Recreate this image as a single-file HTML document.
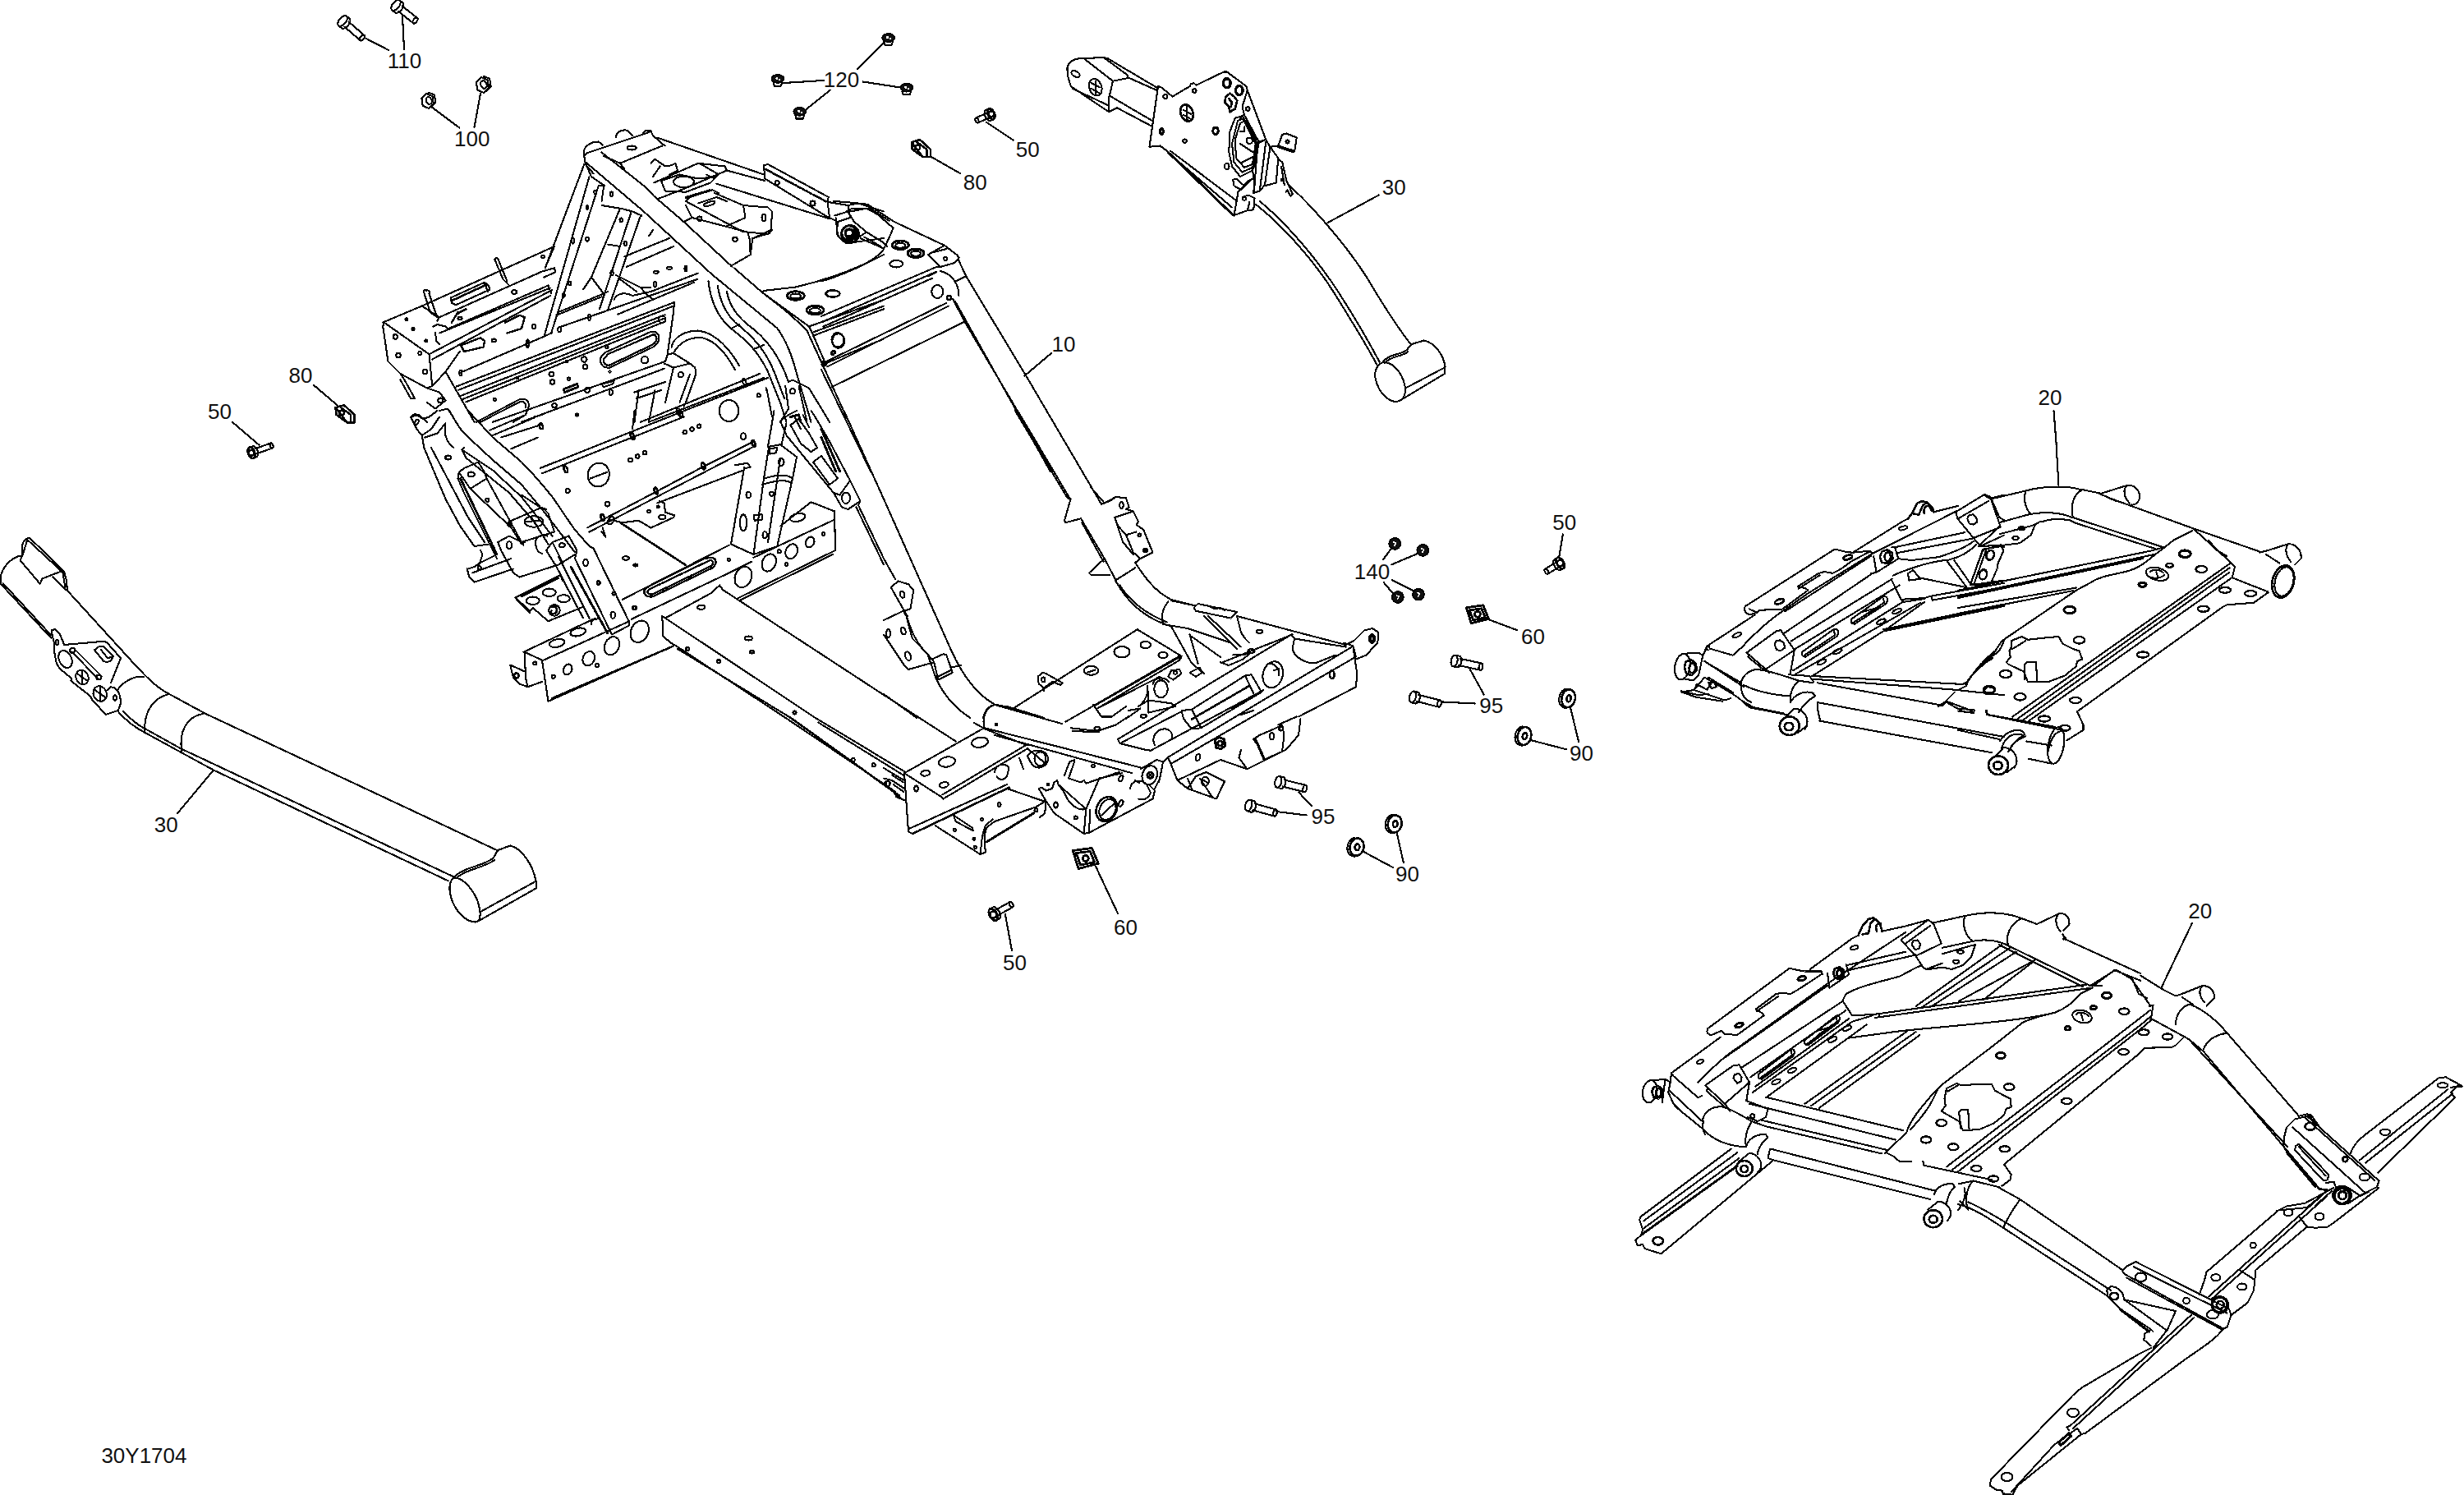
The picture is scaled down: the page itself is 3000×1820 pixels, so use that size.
<!DOCTYPE html>
<html><head><meta charset="utf-8"><title>30Y1704</title>
<style>
html,body{margin:0;padding:0;background:#fff;}
body{width:3000px;height:1820px;overflow:hidden;font-family:"Liberation Sans",sans-serif;}
svg{display:block}
.t{font-family:"Liberation Sans",sans-serif;font-size:25px;fill:#111;stroke:none}
</style></head><body>
<svg width="3000" height="1820" viewBox="0 0 3000 1820" fill="none" stroke="#000" stroke-width="2.1" shape-rendering="crispEdges" stroke-linecap="round" stroke-linejoin="round">
<rect x="0" y="0" width="3000" height="1820" fill="#fff" stroke="none"/>
<!-- left arm 30 : tile (0,640) x4 -->
<g transform="translate(0,640) scale(0.25)" stroke-width="8.26">
<path d="M108,145 C60,150 10,200 3,250 L5,285 L250,548 M14,280 L248,532"/>
<path d="M145,60 L312,222 M133,68 L298,220 M145,60 L130,63 L112,82 L108,100 L110,145 L98,168 L195,283 L205,258 L298,222 L312,222 L325,272 L327,315 M306,230 L318,305 M258,250 L320,312 M133,68 L110,145"/>
<path d="M327,315 L660,680 C720,745 770,795 840,828 L1000,915 L2424,1582"/>
<path d="M575,905 C620,955 660,985 710,1010 L1040,1190 L2184,1730 M600,905 C640,945 670,970 700,985 L880,1085 L2210,1710"/>
<path d="M700,735 C650,730 600,760 572,800 M815,822 C750,840 700,900 705,1005 M990,915 C910,930 870,1000 885,1100"/>
<path d="M250,508 L268,505 L290,525 L305,560 L312,580 L505,563 L520,568 L588,645 L540,765 M250,508 L257,545 L265,575 L262,600 L275,670 L290,695 L350,745 L345,755 L440,830 L450,850 L470,870 L515,920 L575,900 L590,860 L580,815 L560,790 L540,785 L525,800"/>
<ellipse cx="318" cy="650" rx="30" ry="44" transform="rotate(-25 318 650)"/>
<ellipse cx="400" cy="738" rx="30" ry="36" transform="rotate(-25 400 738)"/>
<ellipse cx="487" cy="818" rx="32" ry="38" transform="rotate(-25 487 818)"/>
<path d="M375,720 L425,755 M400,710 L400,770 M462,800 L512,835 M487,785 L487,852"/>
<ellipse cx="278" cy="568" rx="7" ry="11"/><ellipse cx="560" cy="838" rx="8" ry="13"/>
<path d="M350,615 L478,745 M365,603 L495,733"/>
<circle cx="353" cy="607" r="12"/><circle cx="481" cy="738" r="12"/>
<path d="M460,605 L480,590 L505,587 L552,635 L540,658 L520,665 L505,660 Z M492,605 L525,645 L540,640"/>
<path d="M1040,1190 L865,1400"/>
</g>
<!-- arm end: tile (300,860) x4 -->
<g transform="translate(300,860) scale(0.25)" stroke-width="8.26">
<path d="M1010,835 C985,850 985,900 1000,940 C1020,1000 1070,1050 1115,1050 C1150,1045 1140,990 1125,945 C1100,885 1050,830 1010,835 Z"/>
<path d="M1225,700 L1285,678 C1340,690 1395,770 1410,850 L1412,885 L1130,1045 M1408,852 L1140,1000"/>
<path d="M1010,832 C1060,780 1150,780 1200,740 C1215,725 1215,705 1228,700 M1020,838 C1070,790 1150,790 1208,748"/>
</g>
<!-- top arm 30 bracket : tile (1250,0) x4 -->
<g transform="translate(1250,0) scale(0.25)" stroke-width="8.26">
<path d="M255,285 C220,290 195,310 198,340 L200,370 L215,420 L400,545 L440,525 M255,285 L375,280 L490,365 L495,380 L420,395 L400,480 L400,545 M285,290 L420,395 M375,280 L395,285 L640,430 M495,378 L630,438 M410,470 L615,590 M440,525 L610,615 M225,432 L395,512"/>
<ellipse cx="238" cy="360" rx="22" ry="13" transform="rotate(30 238 360)"/>
<ellipse cx="335" cy="425" rx="30" ry="42" transform="rotate(-20 335 425)"/>
<path d="M315,405 L355,425 M312,430 L352,452 M335,395 L335,455"/>
<path d="M640,420 L655,425 L710,470 L795,420 L800,408 L815,405 L825,415 L960,350 L975,350 L1070,420 L1075,440 L1165,680 L1120,700 L1100,820 L1105,870 L1080,880 L1030,935 L1010,1050 L690,740 L650,710 L598,715 Z"/>
<path d="M1075,440 L1050,520 L1060,560 L1130,690 L1165,680 M1055,560 L1040,575"/>
<path d="M1015,575 L1050,565 L1130,690 L1120,760 L1100,830 L1040,860 L1000,810 L985,740 L990,640 Z M1040,600 L1060,590 L1115,700 L1100,800 L1060,815 L1020,770 L1015,680 Z M1028,588 L1052,578 L1122,695 L1108,812 L1050,838 L1010,790 L1000,700 Z M1040,700 L1100,740 M1050,790 L1100,765 M1040,640 L1060,640 L1062,615"/>
<circle cx="1085" cy="685" r="15"/>
<circle cx="675" cy="470" r="10"/><circle cx="817" cy="442" r="9"/><circle cx="770" cy="687" r="9"/><circle cx="1077" cy="530" r="9"/>
<ellipse cx="920" cy="637" rx="13" ry="17" stroke-width="11.8"/><ellipse cx="975" cy="810" rx="11" ry="15"/>
<ellipse cx="657" cy="640" rx="8" ry="14" stroke-width="11.8"/>
<ellipse cx="975" cy="405" rx="17" ry="22" stroke-width="14.16"/><ellipse cx="1035" cy="440" rx="17" ry="22" stroke-width="14.16"/>
<ellipse cx="780" cy="550" rx="30" ry="42" transform="rotate(-20 780 550)" stroke-width="10.62"/>
<path d="M762,535 L800,555 M765,560 L800,580 M780,520 L782,585" />
<path d="M970,470 L990,455 L1010,470 L1025,490 L1015,530 L990,545 L985,520 L965,500 Z M985,480 L1000,500 L995,520" stroke-width="10.62"/>
<path d="M690,745 L1005,1050 L1075,1025 L1085,985 M700,735 L1025,980 M720,770 L1000,1010"/>
<path d="M1030,935 L1100,870 L1110,880 L1105,940 M1050,960 L1080,950 L1110,965 L1105,1020 L1085,1025 M1005,875 L1020,870 L1060,905 L1045,925 L1010,905 Z"/>
<circle cx="1060" cy="967" r="8"/>
<path d="M1165,690 L1135,930 L1105,940 M1125,700 L1108,930 M1185,720 L1160,900 L1135,930 M1165,680 L1185,715 L1225,770 L1215,890 L1160,905"/>
<path d="M1185,715 L1225,710 L1245,655 L1265,650 L1315,670 L1305,735 L1225,710 M1225,716 L1300,742"/>
<circle cx="1270" cy="690" r="8"/>
<path d="M1225,775 L1245,790 L1265,880 L1275,900 L1295,945 L1285,955 L1270,925 L1262,935 M1240,810 L1255,900"/>
<circle cx="1243" cy="875" r="5"/>
</g>
<!-- arm tube & end : tile (1450,200) x4 -->
<g transform="translate(1450,200) scale(0.25)" stroke-width="8.26">
<path d="M475,100 C620,230 800,450 880,590 C940,690 1010,800 1070,875"/>
<path d="M315,195 C450,300 600,470 700,630 C780,760 850,870 905,975 M335,180 C470,290 620,470 720,625 C800,750 870,870 918,962"/>
<path d="M935,965 C905,975 890,1010 900,1050 C915,1110 960,1160 1005,1155 C1040,1150 1050,1110 1040,1070 C1025,1010 980,960 935,965 Z"/>
<path d="M935,962 C970,920 1020,930 1050,905 C1065,890 1065,880 1078,875 M945,968 C975,930 1025,940 1058,912 M1078,875 L1135,858 C1190,870 1230,930 1238,985 L1235,1020 L1035,1140 M1235,990 L1045,1090"/>
<path d="M665,285 L915,150"/>
</g>
<!-- subframe 20 (upper right) : tile (2030,600) x6.01 -->
<g transform="translate(2030,600) scale(0.1664)" stroke-width="12.39">
<path d="M570,830 L1225,412 L1300,430 L1355,437 L1480,425 L1500,440 M570,830 C555,855 575,890 610,890 L655,875 L672,858 L840,852 L1030,712 L1010,698 L955,685 L1105,590 L1150,577 L1210,588 C1260,565 1300,540 1340,505 L1480,430 M960,700 L1115,603 M655,875 L600,850"/>
<ellipse cx="820" cy="795" rx="35" ry="16" transform="rotate(-20 820 795)" stroke-width="16.52"/><ellipse cx="1320" cy="472" rx="33" ry="15" transform="rotate(-15 1320 472)" stroke-width="16.52"/>
<path d="M300,1115 L640,893 M1365,432 L1720,210 L1760,190 M1950,140 L2130,95 M300,1115 L312,1140 L480,1188 L545,1130 C620,1050 720,950 830,875 L1030,735 L1500,445 L2120,132 M860,868 L1490,462 M290,1120 L275,1150 L300,1150"/>
<ellipse cx="510" cy="1040" rx="35" ry="14" transform="rotate(-25 510 1040)"/><ellipse cx="1725" cy="258" rx="32" ry="13" transform="rotate(-15 1725 258)"/>
<path d="M1760,190 L1790,150 L1830,75 L1860,62 L1900,68 L1940,110 L1950,140 M1790,150 L1840,160 L1870,90 L1900,70 M1880,150 C1870,120 1890,90 1915,95 L1935,130" stroke-width="15.34"/>
<path d="M1510,465 L1530,582 L1690,482 L1665,395 L1640,400 M1490,590 L1530,582"/>
<path d="M1555,470 L1570,430 L1610,415 L1645,440 L1650,485 L1615,515 L1570,510 Z" stroke-width="15.34"/><ellipse cx="1612" cy="468" rx="22" ry="32" stroke-width="15.34"/>
<path d="M1665,398 L2175,290 M1690,482 L1780,492 M1680,440 L2230,335 M1770,495 L1985,470 C2080,440 2180,400 2240,355 M1650,605 C1800,540 1950,500 2060,490 C2150,470 2220,420 2260,380"/>
<path d="M2110,140 L2320,12 L2365,30 L2430,180 L2464,200 M2110,140 L2125,190 L2240,330 L2440,250 M2125,190 L2350,60 M2240,330 L2290,390 L2464,310 M2365,40 L2464,15"/>
<path d="M2195,190 L2205,165 L2235,158 L2262,180 L2265,215 L2240,232 L2210,225 Z"/>
<path d="M2310,420 L2440,380 L2464,395 M2310,420 L2220,660 L2240,672 L2464,640 M2330,425 L2245,665"/>
<ellipse cx="2365" cy="455" rx="28" ry="35" transform="rotate(20 2365 455)"/><ellipse cx="2310" cy="600" rx="28" ry="35" transform="rotate(20 2310 600)"/>
<path d="M2050,505 L2190,690 M2100,495 L2215,660 M1840,620 L2180,690 M1760,590 L1800,565 L1850,630 L1770,640 Z"/>
<!-- lower channel rail -->
<path d="M580,1170 L800,1010 L830,1005 L930,1150 L920,1210 L900,1320 M580,1170 L720,1290 L930,1150 M720,1290 L745,1315 M600,1185 L590,1200 L700,1290"/>
<path d="M785,1110 L795,1085 L825,1078 L855,1100 L858,1135 L830,1155 L800,1148 Z"/>
<path d="M850,1030 L1500,590 L1530,582 M905,1085 L1645,630 M930,1145 L1700,675 M920,1300 L1720,800 L1880,775 M940,1325 L1850,805 M1060,1340 L1600,1000 L1880,800"/>
<path d="M985,1165 L1215,1000 C1240,990 1255,1005 1250,1030 L1240,1050 L1010,1200 C990,1200 980,1185 985,1165 Z M1215,1000 L1228,1040 L1000,1190"/>
<path d="M1345,925 L1575,762 C1600,752 1615,767 1610,792 L1600,812 L1370,960 C1350,960 1340,945 1345,925 Z M1575,762 L1588,802 L1360,950 M1430,870 L1540,840 M1440,900 L1550,830"/>
<ellipse cx="1130" cy="1238" rx="35" ry="14" transform="rotate(-25 1130 1238)"/><ellipse cx="1245" cy="1160" rx="35" ry="14" transform="rotate(-25 1245 1160)"/><ellipse cx="1565" cy="942" rx="35" ry="14" transform="rotate(-25 1565 942)"/><ellipse cx="1680" cy="866" rx="35" ry="14" transform="rotate(-25 1680 866)"/>
<path d="M1580,1000 L2464,815 M1600,1008 L2464,828" stroke-width="14.16"/>
<path d="M1640,635 L1710,780 L1880,770 L1930,755 L1940,785 L2464,690 M1930,755 L2464,660 M1710,780 L1730,800"/>
<!-- left end bushing and elbow -->
<ellipse cx="110" cy="1272" rx="55" ry="95" transform="rotate(10 110 1272)"/>
<path d="M125,1275 L135,1235 L175,1220 L210,1250 L215,1300 L180,1335 L140,1325 Z" stroke-width="15.34"/><ellipse cx="182" cy="1282" rx="22" ry="35" stroke-width="15.34"/>
<path d="M110,1177 L230,1170 L260,1190 L300,1115 M260,1190 L230,1330 L195,1370 L130,1365 M270,1230 L560,1420 M300,1350 L480,1460 M215,1400 L290,1440 L330,1380 M100,1450 L230,1480 L300,1470 M215,1400 L200,1440"/>
<path d="M890,1330 L1040,1340 L1070,1380 M1060,1340 L2160,1400 L2200,1380 C2250,1300 2300,1230 2400,1180 C2440,1160 2450,1110 2464,1080 M1060,1362 L2100,1440 L2464,1480 M2180,1400 C2230,1330 2290,1260 2380,1210"/>
<path d="M2320,1445 L2345,1420 L2385,1425 L2395,1455 L2365,1475 L2330,1470 Z"/>
</g>
<!-- subframe 20 (upper right) right part : tile (2384,540) x4 -->
<g transform="translate(2384,540) scale(0.25)" stroke-width="8.26">
<path d="M478,0 L490,205"/>
<path d="M160,270 L330,230 C400,210 520,200 600,225 M200,385 L345,345 C420,330 500,335 555,360 M330,232 C315,270 330,320 355,345 M600,228 C560,250 545,310 560,360 M604,224 L700,244 M690,245 L750,270 L1150,415 L1480,530 M560,360 L1000,505 M575,388 L960,512 M405,382 C450,365 500,365 545,374 L575,388"/>
<path d="M700,242 L825,203 C865,200 890,235 883,270 C875,290 860,300 845,298 M825,203 C800,222 808,262 835,290 M735,265 L775,282"/>
<path d="M1470,530 L1510,520 L1610,488 C1650,490 1675,525 1670,560 L1640,590 M1610,488 C1590,505 1595,545 1620,575 M1500,540 L1565,582"/>
<ellipse cx="1583" cy="672" rx="52" ry="80" transform="rotate(15 1583 672)" stroke-width="10.62"/><ellipse cx="1588" cy="672" rx="44" ry="72" transform="rotate(15 1588 672)"/>
<path d="M1340,655 L1510,722 M1330,580 L1348,600 L1335,652 M1150,418 L1330,580"/>
<path d="M1140,425 L1050,470 L990,518 C930,560 900,600 830,620 C760,640 700,640 640,680 L575,715 L215,960 C190,990 180,1020 160,1040 L110,1075 L50,1150 L40,1180 L0,1200 M180,1010 L120,1062 M1220,470 L1260,520 L1310,548"/>
<path d="M1330,580 L265,1330 M1322,605 L290,1340 M1320,628 L318,1345 M1335,652 L345,1350"/>
<path d="M1510,725 L1440,775 L1310,785 L1290,795 L580,1305 L610,1370 L610,1395 L530,1445"/>
<g stroke-width="9.44">
<ellipse cx="1300" cy="713" rx="28" ry="14"/><ellipse cx="1425" cy="730" rx="28" ry="14"/><ellipse cx="1195" cy="805" rx="28" ry="14"/><ellipse cx="900" cy="1028" rx="28" ry="14"/><ellipse cx="572" cy="1250" rx="28" ry="14"/><ellipse cx="420" cy="1340" rx="28" ry="14"/><ellipse cx="520" cy="1385" rx="26" ry="13"/>
<ellipse cx="1105" cy="537" rx="28" ry="17" stroke-width="12.98"/><ellipse cx="1030" cy="593" rx="17" ry="10"/><ellipse cx="1185" cy="612" rx="27" ry="16"/><ellipse cx="898" cy="687" rx="18" ry="10" stroke-width="12.98"/><ellipse cx="543" cy="810" rx="28" ry="17" stroke-width="11.8"/><ellipse cx="590" cy="957" rx="27" ry="17"/><ellipse cx="232" cy="1122" rx="28" ry="18"/><ellipse cx="152" cy="1198" rx="28" ry="17" stroke-width="11.8"/><ellipse cx="302" cy="1233" rx="28" ry="17"/>
</g>
<ellipse cx="970" cy="635" rx="56" ry="30" transform="rotate(15 970 635)"/><path d="M935,625 C950,610 985,612 1000,630 M940,650 C960,660 990,655 1005,640 M965,625 L975,655"/>
<path d="M260,960 L310,940 L340,955 L430,945 L490,940 L510,975 L560,1000 L590,1010 L605,1050 L580,1060 L575,1085 L520,1130 L440,1160 L340,1160 L320,1110 L245,1075 L235,1065 L255,1040 L250,1010 L262,985 Z M325,1075 L335,1065 L380,1065 L385,1160 M325,1075 L325,1150 M265,1000 L330,960"/>
<path d="M0,715 L950,520 L1000,505 M0,745 L955,540 M0,752 L900,560 M0,800 L575,702 M0,828 L562,716" />
<path d="M125,250 L160,270 L200,385 L205,400 L100,500 M205,440 L360,400 L400,380 L375,395 L355,445 L300,485 L220,495 L100,500 M120,515 L210,500 L222,520 L205,560 L195,580 L190,610 L160,680 L60,690 M120,515 L60,690"/>
<ellipse cx="310" cy="413" rx="15" ry="8"/><ellipse cx="280" cy="460" rx="15" ry="8"/>
<ellipse cx="155" cy="543" rx="19" ry="25" transform="rotate(20 155 543)"/><ellipse cx="122" cy="637" rx="19" ry="25" transform="rotate(20 122 637)"/>
<path d="M140,1320 L530,1400 M135,1300 L140,1320 M0,1395 L200,1440 M210,1495 C220,1440 260,1400 320,1420 M250,1495 C260,1460 290,1440 330,1425 M440,1495 C450,1430 480,1390 530,1400 M510,1495 C520,1450 520,1420 510,1400 M0,1290 L80,1298 L75,1312 L0,1302"/>
</g>
<!-- subframe 20 (upper right) lower tube : tile (2000,780) x4 -->
<g transform="translate(2000,780) scale(0.25)" stroke-width="8.26">
<path d="M480,235 C470,190 500,150 550,140 C600,140 650,160 700,175 L760,195 L830,205 M480,235 C485,270 500,290 530,300 M300,100 L480,205 M305,180 L440,260 L475,285 M760,195 C730,220 715,260 720,300 M490,215 C560,250 650,265 720,270 M480,290 L540,325 L690,355"/>
<path d="M850,205 L1460,315 M850,300 L1760,468 M860,390 L1700,545 M850,300 L855,350 L865,390 M1870,490 L1990,510 M1880,575 L1990,598 M1680,360 L2010,420 M1675,340 L1680,360"/>
<ellipse cx="2013" cy="510" rx="38" ry="90" transform="rotate(10 2013 510)"/>
<path d="M720,300 C740,260 790,240 830,255 L840,270 C800,290 770,330 760,350 M735,330 C780,330 810,370 800,410 L790,430 M700,368 L740,330 M755,448 L800,415"/>
<ellipse cx="715" cy="415" rx="48" ry="45" stroke-width="10.62"/><ellipse cx="712" cy="418" rx="21" ry="19" stroke-width="10.62"/>
<path d="M1740,490 C1760,450 1810,425 1850,440 L1860,455 C1820,480 1790,520 1780,540 M1755,520 C1800,520 1830,560 1820,600 L1810,620 M1720,560 L1758,520 M1775,640 L1815,610"/>
<ellipse cx="1732" cy="607" rx="48" ry="45" stroke-width="10.62"/><ellipse cx="1730" cy="608" rx="21" ry="19" stroke-width="10.62"/>
<path d="M190,250 L250,240 L400,290 L430,280 M190,250 L260,275 L390,295 M250,240 L300,180 M320,205 L345,200 L360,225 L335,232 Z M480,290 L520,325 L700,360"/>
<path d="M1460,315 L1480,295 L1600,340 L1610,350 L1560,345 L1480,300 M1440,320 L1470,300 L1520,250"/>
</g>
<!-- subframe 20 (lower right) upper-left : tile (1990,1100) x4 -->
<g transform="translate(1990,1100) scale(0.25)" stroke-width="8.26">
<path d="M1450,95 L1610,60 C1700,40 1800,40 1880,70 L1960,100 M1610,60 C1595,100 1610,160 1650,185 M1880,75 C1830,100 1805,160 1820,200 M1500,215 L1640,185 C1700,170 1770,180 1810,200 L2210,395 M1775,200 L2185,405 M2090,170 L2464,340"/>
<path d="M1960,100 L2070,48 C2100,45 2120,70 2118,100 L2090,130 M2070,48 C2045,65 2050,110 2075,135 M2085,150 L2100,170 L2090,175"/>
<path d="M1300,175 L1430,80 L1455,95 L1495,195 L1370,255 L1300,180 M1370,255 L1405,310 L1420,320 L1500,290 M1320,195 L1440,108 M1500,245 L1640,205 L1660,200 L1640,260 L1600,300 L1545,320 L1500,310 L1420,322"/>
<path d="M1350,200 L1358,182 L1378,178 L1392,195 L1388,218 L1368,225 Z"/>
<ellipse cx="1588" cy="235" rx="15" ry="8"/><ellipse cx="1567" cy="283" rx="15" ry="8"/>
<path d="M1090,155 L1110,110 L1140,75 L1165,70 L1195,95 L1205,130 M1110,150 L1140,145 L1150,95 L1170,78 M1180,135 C1170,110 1185,90 1200,98" stroke-width="10.62"/>
<path d="M180,825 L420,650 M855,320 L1060,170 L1090,155 M1205,135 L1320,110 L1430,80 M180,825 L190,840 L310,945 L330,935 M310,870 C380,800 440,740 520,690 L940,390 L1320,140 M440,750 L940,400"/>
<ellipse cx="320" cy="770" rx="18" ry="9" transform="rotate(-25 320 770)"/><ellipse cx="1070" cy="215" rx="20" ry="9" transform="rotate(-15 1070 215)"/>
<path d="M355,610 L755,315 L800,325 L830,330 L910,330 L915,345 M355,610 C350,630 360,640 375,640 L410,625 L425,620 L440,635 L500,640 L630,545 L625,535 L590,515 L690,440 L720,435 L760,440 C800,420 840,390 910,345 M595,525 L700,452"/>
<ellipse cx="510" cy="592" rx="20" ry="10" transform="rotate(-20 510 592)" stroke-width="11.8"/><ellipse cx="815" cy="365" rx="20" ry="10" transform="rotate(-15 815 365)" stroke-width="11.8"/>
<path d="M940,340 L950,410 L1045,345 L1030,295"/>
<path d="M968,340 L975,318 L1000,310 L1020,325 L1020,352 L1000,368 L978,362 Z" stroke-width="11.8"/><ellipse cx="998" cy="340" rx="12" ry="18" stroke-width="11.8"/>
<path d="M1035,300 L1320,235 M1040,325 L1370,250 M1030,440 C1100,400 1200,380 1290,355 C1340,330 1370,310 1400,300 M1010,480 L1030,440"/>
<path d="M345,885 L480,790 L510,785 L560,870 L555,900 L545,960 M345,885 L440,975 L560,870 M440,975 L465,1010 M360,900 L350,912 L440,990"/>
<path d="M482,850 L488,832 L508,828 L522,845 L520,866 L500,875 Z"/>
<path d="M520,800 L1015,475 M565,845 L1030,520 M575,920 L1060,575 L1160,545 M640,945 L1130,590 M590,890 L1045,560"/>
<path d="M605,830 L760,712 C775,705 782,715 778,730 L770,745 L620,855 C605,855 600,845 605,830 Z M760,712 L768,738 L615,848"/>
<path d="M830,665 L980,548 C995,541 1002,551 998,566 L990,581 L845,690 C830,690 825,680 830,665 Z M980,548 L988,574 L840,684 M890,620 L960,600 M895,640 L965,590"/>
<g><ellipse cx="690" cy="868" rx="22" ry="10" transform="rotate(-25 690 868)"/><ellipse cx="768" cy="812" rx="22" ry="10" transform="rotate(-25 768 812)"/><ellipse cx="965" cy="662" rx="22" ry="10" transform="rotate(-25 965 662)"/><ellipse cx="1035" cy="607" rx="22" ry="10" transform="rotate(-25 1035 607)"/></g>
<path d="M1015,475 L1060,545 L1165,540 M1165,540 L2200,395 M1170,556 L2230,410 M1040,655 L1300,620 C1600,590 1900,570 2050,530 C2100,510 2140,480 2170,440 L2230,410 M1190,535 L1195,550"/>
<path d="M830,975 L1330,620 M860,985 L1370,625 M900,995 L1390,640 M1370,500 L1790,200 M1400,505 L1830,215 M1440,505 L1860,235 M1580,475 L1960,270 M1700,468 L1940,285"/>
<ellipse cx="75" cy="915" rx="35" ry="55" transform="rotate(10 75 915)"/>
<path d="M85,918 L92,895 L115,888 L135,903 L138,932 L118,950 L95,945 Z" stroke-width="10.62"/><ellipse cx="117" cy="920" rx="12" ry="20" stroke-width="10.62"/>
<path d="M80,862 L150,855 L175,870 L180,825 M150,855 L135,970 M175,870 L165,920 L190,975 L215,1000 M170,910 L330,1060 M195,985 L330,1095 C380,1150 450,1180 540,1185"/>
<path d="M330,1060 C340,1010 380,985 430,990 C470,1000 520,1030 570,1060 L640,1085 M570,1065 C545,1100 535,1150 545,1185 M335,1060 C330,1090 335,1110 345,1125"/>
<path d="M545,960 L650,1000 L640,1040 L600,1060 L550,1040"/><circle cx="575" cy="1035" r="10"/>
<path d="M650,945 L1310,1105 M560,975 L1270,1150 M620,1055 L1230,1200 M640,1085 L1205,1218"/>
<path d="M665,1195 L1470,1400 M680,1250 L1440,1440 M660,1195 L650,1240 L680,1250 M545,1185 C550,1150 590,1120 640,1125 L650,1140 C620,1160 600,1200 600,1220 M560,1215 C600,1220 625,1255 615,1290 L600,1310 M510,1255 L560,1215 M1405,1255 L1410,1275 L1740,1345"/>
<ellipse cx="535" cy="1290" rx="40" ry="38" stroke-width="10.62"/><ellipse cx="535" cy="1292" rx="18" ry="16" stroke-width="10.62"/>
<path d="M1220,1215 L1325,1115 C1340,1060 1390,1000 1450,930 L1500,880 L1750,690 L1890,580 C1950,550 2000,545 2050,530 M1345,1100 C1380,1060 1420,1020 1450,960 L1480,900 M1230,1215 L1260,1230 L1290,1255 L1350,1255"/>
<path d="M1520,1282 L2440,575 M1548,1296 L2464,592 M1575,1306 L2464,612 M1800,1270 L2464,726 M1800,1270 L1835,1320 L1830,1345 L1790,1375"/>
<path d="M1520,900 L1570,875 L1590,885 L1670,880 L1740,880 L1755,910 L1800,935 L1830,950 L1835,990 L1810,1000 L1800,1030 L1750,1070 L1680,1100 L1600,1105 L1580,1060 L1510,1020 L1495,1010 L1515,985 L1510,950 Z M1580,1015 L1590,1005 L1625,1005 L1630,1095 M1580,1015 L1590,1095 M1525,915 L1575,885"/>
<g stroke-width="9.44">
<ellipse cx="2300" cy="447" rx="22" ry="14" stroke-width="12.98"/><ellipse cx="2235" cy="507" rx="15" ry="9" stroke-width="11.8"/><ellipse cx="2385" cy="525" rx="25" ry="15"/><ellipse cx="2110" cy="607" rx="13" ry="9" stroke-width="11.8"/><ellipse cx="1783" cy="740" rx="22" ry="14" stroke-width="11.8"/><ellipse cx="1825" cy="893" rx="25" ry="16"/><ellipse cx="1495" cy="1068" rx="25" ry="16"/><ellipse cx="1420" cy="1150" rx="25" ry="16"/><ellipse cx="1553" cy="1185" rx="25" ry="16"/><ellipse cx="2382" cy="722" rx="25" ry="14"/><ellipse cx="2105" cy="962" rx="25" ry="14"/><ellipse cx="1803" cy="1195" rx="25" ry="14"/><ellipse cx="1665" cy="1290" rx="25" ry="14"/><ellipse cx="1748" cy="1340" rx="25" ry="14"/>
</g>
<ellipse cx="2180" cy="550" rx="48" ry="30" transform="rotate(15 2180 550)"/><path d="M2150,540 C2165,525 2200,530 2212,548 M2175,535 L2185,570"/>
<path d="M2220,400 L2340,325 L2464,375 M2250,385 L2270,370"/>
</g>
<!-- subframe 20 (lower right) upper-right : tile (2384,1100) x4 -->
<g transform="translate(2384,1100) scale(0.25)" stroke-width="8.26">
<path d="M1140,95 L990,410"/>
<path d="M888,350 L1000,420 L1060,450 L1090,440 L1190,400 C1230,400 1250,430 1248,460 L1210,500 M1190,400 C1170,420 1175,455 1200,480 M1090,455 L1145,492"/>
<path d="M660,400 L760,325 L775,325 L850,370 L880,440 L920,460 M690,380 L700,365 M640,400 L700,400 M850,375 L935,495"/>
<path d="M864,575 L935,520 M888,592 L938,550 M888,612 L940,568 M930,500 L950,495 L940,560 L935,575"/>
<path d="M888,722 L910,703 L1040,700 L1060,690 L1100,650 M940,560 L1105,650 M1060,590 C1060,540 1090,500 1130,490"/>
<ellipse cx="905" cy="627" rx="25" ry="14" stroke-width="9.44"/><ellipse cx="1020" cy="648" rx="25" ry="14" stroke-width="9.44"/>
<path d="M1130,490 C1200,520 1260,570 1310,630 L1660,1035 M1310,630 C1250,640 1210,670 1195,710 M1105,650 C1140,670 1170,700 1195,720 L1600,1200 M1125,662 L1605,1185"/>
<path d="M1660,1035 L1700,1025 L1720,1030 L1755,1080 M1640,1050 L1700,1035 L2050,1350 L2040,1380 L1960,1420 L1900,1460 M1640,1050 L1600,1090 L1590,1130 L1585,1180 M1630,1090 L1985,1410 M1690,1042 L2030,1348 M1705,1028 L1745,1075"/>
<path d="M1645,1180 L1660,1170 L1805,1320 L1800,1345 L1780,1350 L1640,1200 Z M1660,1185 L1790,1325"/>
<path d="M1590,1190 L1760,1390 L1800,1395 M1600,1212 L1740,1380" stroke-width="10.62"/>
<ellipse cx="1715" cy="1085" rx="25" ry="18" stroke-width="10.62"/><circle cx="1885" cy="1245" r="12" stroke-width="10.62"/><ellipse cx="1980" cy="1332" rx="25" ry="18"/>
<path d="M1790,1360 L1830,1355 L1840,1380 M1800,1395 L1700,1480 L1550,1495 M1820,1400 L1740,1470"/>
<circle cx="1870" cy="1420" r="42" stroke-width="14.16"/><circle cx="1872" cy="1420" r="20" stroke-width="10.62"/>
<path d="M1910,1220 C1920,1180 1950,1150 1990,1120 L2340,850 L2375,845 L2440,880 L2455,890 L2400,895 M2440,880 L2400,920 L2420,945 L2045,1310 M1955,1250 L2385,905 M1985,1262 L2410,925"/>
<ellipse cx="2080" cy="1113" rx="25" ry="15"/><ellipse cx="2360" cy="885" rx="25" ry="12"/>
</g>
<!-- subframe 20 (lower right) bottom-right : tile (2384,1446) x4 -->
<g transform="translate(2384,1446) scale(0.25)" stroke-width="8.26">
<path d="M200,0 L300,55 L800,400 M300,60 C270,100 240,150 220,195 M0,80 C80,100 150,150 220,195 L725,525 M50,70 C120,100 200,150 250,180 L745,500 M30,0 C40,30 35,60 0,110"/>
<path d="M865,360 L1320,590 L1330,620 L1310,680 L1290,685 L810,420 L800,405 L825,380 Z M855,385 L1310,610 M820,438 L1285,690"/>
<ellipse cx="890" cy="435" rx="28" ry="21"/><circle cx="1112" cy="550" r="15"/><ellipse cx="1240" cy="617" rx="28" ry="21"/>
<path d="M745,480 L770,485 L800,510 L810,545 L1060,600 M745,480 L725,500 L730,530 L760,560 L790,590 L940,690 L950,700 M810,545 L1010,690 M940,690 L910,710 L905,740 L940,770 M1060,600 L1020,690 L950,780"/>
<path d="M790,592 L930,700" stroke-width="12.98"/>
<ellipse cx="760" cy="528" rx="20" ry="17" stroke-width="10.62"/>
<circle cx="1275" cy="570" r="38" stroke-width="14.16"/><circle cx="1277" cy="570" r="18" stroke-width="10.62"/>
<path d="M1830,0 L1690,75 L1600,90 L1560,110 L1210,410 L1200,450 L1175,520 M1780,30 L1220,530 M1795,42 L1235,542 M2050,0 L1830,170 L1800,190 L1740,195 L1700,190 L1450,400 L1440,500 L1410,560 L1330,620 M1660,140 L1700,190 M1370,400 L1440,445 M1900,0 L1960,40 L2000,20"/>
<ellipse cx="1608" cy="120" rx="22" ry="16"/><ellipse cx="1760" cy="140" rx="22" ry="16"/><circle cx="1437" cy="280" r="14"/><ellipse cx="1255" cy="437" rx="22" ry="16"/><ellipse cx="1383" cy="482" rx="22" ry="16"/>
<circle cx="1870" cy="40" r="38" stroke-width="14.16"/><circle cx="1872" cy="38" r="18" stroke-width="10.62"/>
<path d="M1135,620 L545,1160 M1150,632 L560,1172 M940,780 L880,810 L600,975 L560,1010 L160,1420 L155,1450 L185,1470 L215,1475 L220,1495 M1290,690 C1250,740 1200,770 1100,840 L620,1195 L600,1200 L580,1170 M545,1160 L530,1165 L540,1182 M580,1172 L470,1250 L260,1480 M600,1200 L290,1450 L265,1495 L225,1490"/>
<path d="M490,1240 L540,1195 L550,1210 L500,1255 Z" stroke-width="11.8"/>
<ellipse cx="560" cy="1095" rx="28" ry="21"/><ellipse cx="238" cy="1408" rx="28" ry="20"/>
</g>
<!-- subframe 20 (lower right) bottom-left : tile (1900,1400) x4 -->
<g transform="translate(1900,1400) scale(0.25)" stroke-width="8.26">
<path d="M830,-5 L390,325 M862,12 L405,345 M870,40 L400,385 M1030,55 L490,505 M390,325 L385,340 L400,385 L395,412 L365,440 L375,465 L400,460 L410,480 L440,490 L490,505"/>
<path d="M860,78 L395,412" stroke-width="11.8" stroke-dasharray="14 6"/>
<ellipse cx="475" cy="443" rx="25" ry="19" stroke-width="10.62"/>
<path d="M1820,215 C1830,180 1870,160 1910,165 L1920,180 C1895,200 1880,240 1880,270 M1840,250 C1880,255 1905,285 1900,320 L1885,345 M1790,290 L1840,250 M1940,165 L2010,150"/>
<ellipse cx="1815" cy="335" rx="45" ry="42" stroke-width="10.62"/><ellipse cx="1815" cy="337" rx="20" ry="18" stroke-width="10.62"/>
<path d="M2010,150 C1980,180 1965,240 1985,290 M2010,150 L2140,182 M1945,250 L1985,290"/>
</g>
<!-- main frame T1 : tile (460,140) x4 -->
<g transform="translate(460,140) scale(0.25)" stroke-width="8.26">
<!-- beam -->
<path d="M1090,182 L1300,348 M1345,395 L1490,520 L1725,738 M1735,745 L1870,862 L1925,905 C2000,960 2050,1010 2090,1050 L2177,1240 L2293,1495 M1015,232 L1293,468 L1626,775 L1945,1038 C1990,1100 2020,1180 2040,1260 L2110,1495"/>
<path d="M1020,185 L1290,95 L1330,80 L1340,100 L1385,140 L1400,150 M1180,235 L1385,150 M1100,200 L1180,235 L1200,262 M1020,185 L1005,200 L1010,232 M1005,195 C995,160 1030,130 1075,130 L1095,147 M1160,110 C1160,80 1190,70 1215,75 L1240,100 M1290,95 C1290,80 1310,70 1330,78"/>
<ellipse cx="1237" cy="160" rx="22" ry="10"/>
<path d="M1360,110 L1880,290 M1650,335 L2200,505 M1700,270 L1885,320"/>
<path d="M1880,245 L1900,240 L2195,400 L2190,420 L2200,500 L2180,490 L1885,310 Z"/><path d="M1890,265 L2190,425" stroke-dasharray="12 8" stroke-width="10.62"/>
<circle cx="1945" cy="330" r="10"/><circle cx="2118" cy="430" r="12"/>
<path d="M2200,425 L2290,440 L2340,430 L2464,470 M2290,440 L2300,500 L2240,520 L2235,580 M2240,590 L2280,625 L2464,600 M2350,600 L2464,650 M2200,500 L2240,520 M2300,470 L2380,455 L2464,500"/>
<circle cx="2300" cy="580" r="42" stroke-width="11.8"/><circle cx="2300" cy="578" r="22" stroke-width="11.8"/>
<!-- center top bracket -->
<path d="M1300,348 L1345,395 L1360,410 L1490,360 L1700,270 L1690,250 L1560,235 L1345,330 M1560,235 L1575,240 L1660,290 L1640,310 L1600,290 M1380,320 L1470,290 L1560,310 L1650,300 L1620,330 L1500,375 L1400,370 Z M1330,235 L1350,215 L1400,250 L1430,245 L1450,235 L1460,270 L1420,290 M1340,300 L1375,250"/>
<ellipse cx="1490" cy="325" rx="50" ry="27"/>
<!-- channel bracket -->
<path d="M1490,520 L1530,500 L1800,570 L1810,600 L1815,680 L1720,735 M1500,420 L1780,570 M1500,420 L1520,400 L1630,365 L1660,380 M1640,380 L1780,440 L1900,450 L1920,470 L1915,560 L1830,600 M1780,440 L1790,500 L1700,540 M1560,430 L1650,400 L1700,420 M1800,570 L1900,580 L1920,560 M1815,680 L1825,600 L1910,575 M1530,500 L1500,440"/>
<path d="M1500,402 L1620,366" stroke-dasharray="10 6" stroke-width="11.8"/>
<circle cx="1567" cy="505" r="11"/><circle cx="1740" cy="605" r="11"/><ellipse cx="1880" cy="500" rx="10" ry="17"/><ellipse cx="1615" cy="432" rx="28" ry="9" transform="rotate(-18 1615 432)"/>
<!-- left upright -->
<path d="M1005,240 L815,745 M1030,300 L810,1078 M1075,345 L845,1060 M1105,345 L1075,345 M1100,350 L1090,420 M1090,440 L1180,455 L1040,790 L1000,850 M1235,470 L1080,945 M1280,490 L1120,950 M1185,455 L1240,470 L1285,490 M1120,630 L1180,640 M1040,790 L1100,870 L1120,860 M880,960 L1100,870 M870,975 L1090,885 M810,1078 L850,1060 M1010,232 L1040,300 L1105,345 M1020,250 L1050,285"/>
<g><ellipse cx="1138" cy="385" rx="7" ry="11"/><ellipse cx="1020" cy="450" rx="5" ry="9"/><ellipse cx="1020" cy="605" rx="7" ry="10"/><ellipse cx="1185" cy="512" rx="7" ry="10"/><ellipse cx="1205" cy="625" rx="7" ry="10"/><ellipse cx="1140" cy="770" rx="7" ry="10"/><ellipse cx="950" cy="612" rx="6" ry="14"/><ellipse cx="935" cy="820" rx="6" ry="9"/><ellipse cx="905" cy="878" rx="6" ry="9"/><ellipse cx="1058" cy="375" rx="5" ry="8"/></g>
<!-- rails behind upright -->
<path d="M1200,690 L1420,600 M1210,740 L1440,640 M1160,780 L1280,840 L1330,840 M1180,800 L1260,860 M1320,590 L1340,560 M1280,840 C1300,870 1320,880 1340,900 M1150,900 C1160,870 1200,860 1240,880 L1330,860 M1330,860 L1560,770 M1170,970 L1540,815 M880,1035 L1555,800"/>
<g><ellipse cx="1355" cy="765" rx="12" ry="6"/><ellipse cx="1420" cy="745" rx="12" ry="6"/><ellipse cx="1500" cy="748" rx="6" ry="14"/><ellipse cx="1350" cy="825" rx="6" ry="13"/><ellipse cx="1030" cy="985" rx="6" ry="14"/><ellipse cx="885" cy="1045" rx="8" ry="12"/><ellipse cx="730" cy="1110" rx="6" ry="16"/><ellipse cx="403" cy="1256" rx="6" ry="14"/><ellipse cx="729" cy="1119" rx="6" ry="14"/></g>
<!-- left box -->
<path d="M25,1010 L215,930 L860,640 M30,1010 L250,1165 L830,862 L850,852 M265,1190 L840,880 M30,1010 L25,1030 L50,1200 L110,1260 L240,1330 L265,1320 L250,1165 M215,930 L300,985 L800,762 M300,985 L290,1002 M345,1040 L830,830 L845,870 M300,1062 L840,842 M270,1030 L290,1020 L330,1030 L345,1045 M280,1060 L285,1100 L300,1115 M860,640 L815,745 M800,762 L860,745 L865,765 L810,790"/>
<path d="M225,865 L255,960 L290,985 M235,855 C250,850 255,860 250,870 L285,975 M570,705 L610,800 L640,830 M585,700 L630,810 M225,865 C220,855 228,850 235,855 M570,705 C568,697 578,694 585,700"/>
<path d="M355,890 L520,815 L540,830 L545,850 L380,925 L360,915 Z M520,815 L535,860"/><path d="M365,902 L530,826" stroke-dasharray="10 6" stroke-width="10.62"/>
<path d="M405,1122 L500,1085 L520,1100 L515,1130 L420,1152 Z M620,1010 L690,975 L715,985 L700,1040 L630,1062 M380,975 L400,960 L430,945 M360,1010 L390,960" stroke-width="9.44"/>
<g><circle cx="85" cy="1080" r="11"/><circle cx="100" cy="1170" r="11"/><circle cx="205" cy="1160" r="8"/><circle cx="230" cy="1250" r="10"/><circle cx="140" cy="995" r="6"/><circle cx="172" cy="1042" r="6"/><circle cx="235" cy="1100" r="6"/><ellipse cx="665" cy="862" rx="12" ry="9"/><ellipse cx="400" cy="990" rx="10" ry="8"/><ellipse cx="805" cy="690" rx="8" ry="6"/><ellipse cx="760" cy="1030" rx="8" ry="10"/><ellipse cx="565" cy="1098" rx="10" ry="8"/></g>
<path d="M110,1260 L130,1290 L180,1380 L160,1380 L110,1290 M240,1330 L300,1350 L330,1390 L280,1430 L240,1400 M265,1320 L330,1250 L400,1150 M160,1470 L200,1460 L240,1495 M300,1440 L340,1430 L360,1460"/>
<circle cx="305" cy="1390" r="12"/>
<!-- front panel -->
<path d="M399,1256 L815,1076 M383,1322 L1441,913 M393,1339 L1444,929 M400,1369 L1398,973 M415,1383 L1398,989 M430,1397 L1398,1006 M330,1250 L470,1495 M1444,913 L1438,973 L1410,1170 L1400,1200 M560,1495 L1400,1200 M700,1495 L1395,1235"/>
<path d="M1085,1185 C1080,1215 1100,1235 1130,1230 L1340,1130 C1375,1110 1380,1070 1350,1055 L1330,1055 L1110,1155 C1095,1165 1088,1175 1085,1185 Z"/><path d="M1100,1190 C1098,1210 1110,1222 1130,1218 L1335,1120 C1360,1105 1365,1080 1345,1068 L1120,1165 Z" stroke-dasharray="10 5" stroke-width="9.44"/>
<path d="M480,1495 L690,1385 C720,1375 740,1395 735,1420 L720,1460 L660,1495 M500,1495 L690,1398 C712,1392 725,1405 720,1425"/>
<g><circle cx="1385" cy="995" r="17"/><circle cx="1300" cy="1193" r="17"/><circle cx="1005" cy="1190" r="13"/><circle cx="1010" cy="1225" r="11"/><circle cx="845" cy="1262" r="11"/><circle cx="850" cy="1300" r="11"/><circle cx="930" cy="1285" r="7"/><circle cx="1020" cy="1340" r="11"/><circle cx="860" cy="1415" r="11"/><circle cx="1115" cy="1130" r="7"/><circle cx="1130" cy="1250" r="5"/><circle cx="920" cy="1200" r="6"/><circle cx="680" cy="1280" r="6"/><circle cx="570" cy="1385" r="6"/><circle cx="970" cy="1460" r="6"/></g>
<path d="M905,1335 L970,1310 L975,1325 L910,1350 Z" stroke-width="11.8"/>
<path d="M1090,1310 L1150,1295 L1145,1310 L1100,1325 Z M760,1470 L800,1460"/>
<!-- hoop tubes -->
<path d="M1430,1130 C1440,1080 1500,1050 1560,1050 C1650,1060 1720,1150 1760,1220 M1440,1160 C1470,1100 1530,1080 1580,1085 C1650,1100 1700,1170 1740,1240"/>
<path d="M1610,810 C1620,900 1650,980 1720,1040 C1800,1100 1850,1150 1900,1250 L1960,1400 L1990,1495 M1655,830 C1665,900 1690,960 1740,1010 C1830,1080 1890,1150 1930,1250 L1980,1380 M1700,860 C1710,920 1740,970 1800,1020 C1900,1090 1960,1180 2000,1300 M1720,1040 L1760,1020 M1830,1140 L1880,1120"/>
<path d="M1415,1165 L1440,1160 L1520,1210 L1545,1230 L1550,1260 L1500,1400 L1490,1420 M1440,1230 L1520,1210 M1440,1230 L1400,1400 M1520,1262 L1470,1400 M1395,1210 L1440,1230"/>
<circle cx="1475" cy="1265" r="13"/>
<path d="M1280,1495 L1860,1260 M1320,1495 L1880,1280 M1250,1350 L1400,1300 M1260,1380 L1380,1340 M1270,1340 L1250,1495 M1350,1340 L1320,1495"/>
<ellipse cx="1785" cy="1300" rx="8" ry="16" transform="rotate(-20 1785 1300)"/><ellipse cx="1465" cy="1445" rx="8" ry="16" transform="rotate(-20 1465 1445)"/><ellipse cx="1135" cy="1350" rx="8" ry="14"/>
<circle cx="1855" cy="1365" r="8"/><path d="M1890,1330 L1895,1345 M1895,1340 L1920,1470"/>
<!-- right side panel -->
<path d="M1885,855 L2035,838 C2200,800 2350,740 2464,680 M1880,870 L2100,1030 L2464,900 M2100,1030 L2115,1060 L2464,930 M2115,1060 L2180,1210 L2464,1090 M2180,1210 L2170,1225 M1870,862 L1885,855 M2120,1075 L2464,945"/>
<ellipse cx="2035" cy="880" rx="42" ry="21" stroke-width="11.8"/><ellipse cx="2035" cy="882" rx="26" ry="12"/><ellipse cx="2215" cy="870" rx="35" ry="17"/><ellipse cx="2130" cy="950" rx="42" ry="21" stroke-width="11.8"/><ellipse cx="2130" cy="952" rx="26" ry="12"/><ellipse cx="2240" cy="1095" rx="30" ry="35"/>
<path d="M2000,1300 L2020,1290 L2100,1330 M1985,1320 L2000,1430 L1960,1495 M2050,1320 L2090,1495 M2100,1330 L2200,1495"/>
<circle cx="2020" cy="1345" r="12"/><circle cx="2215" cy="1160" r="8"/><circle cx="2170" cy="1215" r="8"/>
<path d="M2010,1470 L2050,1460 L2060,1495" stroke-width="11.8"/>
</g>
<!-- main frame T2 : tile (1000,200) x4 -->
<g transform="translate(1000,200) scale(0.25)" stroke-width="8.26">
<path d="M60,180 L130,185 L225,195 L355,280 L440,320 L600,395 L665,445 L670,470 M120,230 L150,215 L240,215 L330,275 M65,250 L130,230 L160,280 L220,330 L190,350 L100,370 L80,345 L70,260 M220,330 L300,380 L320,400 M210,355 L290,400 M350,310 C340,340 320,380 300,420 C250,480 100,540 0,570 M240,215 L350,310"/>
<circle cx="135" cy="335" r="36" stroke-width="11.8"/><circle cx="135" cy="333" r="18" stroke-width="11.8"/>
<path d="M600,395 L520,440 L580,500 L650,480 L670,455 M540,430 L610,412"/><circle cx="605" cy="460" r="8"/>
<ellipse cx="385" cy="393" rx="40" ry="21" stroke-width="11.8"/><ellipse cx="385" cy="395" rx="24" ry="12"/><ellipse cx="460" cy="433" rx="40" ry="21" stroke-width="11.8"/><ellipse cx="460" cy="435" rx="24" ry="12"/><ellipse cx="365" cy="485" rx="32" ry="17"/><ellipse cx="57" cy="630" rx="32" ry="16"/>
<path d="M0,740 L560,500 L580,500 M0,770 L555,525 M520,545 L560,525 M580,520 C620,530 650,560 665,600 L670,640 M655,570 L705,545"/>
<path d="M670,470 L705,545 L1000,1035 L1270,1495 M640,655 L700,770 L1130,1495 M652,668 L1115,1495"/>
<path d="M15,965 L610,675 M30,985 L620,690 M10,790 L540,555 M50,1085 L695,768 M0,1000 L240,1495"/>
<ellipse cx="565" cy="620" rx="28" ry="32"/><ellipse cx="83" cy="860" rx="30" ry="35"/><circle cx="622" cy="650" r="10" stroke-width="11.8"/><circle cx="60" cy="915" r="8"/><circle cx="15" cy="970" r="9" stroke-width="11.8"/>
<path d="M0,1290 L90,1495 M0,1330 L70,1495" stroke-width="11.8"/>
</g>
<!-- main frame T3 : tile (460,500) x4 -->
<g transform="translate(460,500) scale(0.25)" stroke-width="8.26">
<!-- lower cross-member -->
<path d="M710,1175 L1060,1010 M1190,920 L1710,655 M1960,562 L2110,445 L2225,490 L2225,530 L2228,680 M2225,530 L1830,715 M2228,680 L1750,915 M2215,700 L1760,925 M800,1218 L1225,1025 M1235,1015 L1700,795 L1820,735 M715,1175 L800,1215 L830,1415 M830,1415 L1440,1145 M715,1175 L720,1300 L730,1345 L800,1320 M650,1240 L715,1270 M645,1240 L660,1300 L690,1330 L730,1345"/>
<path d="M850,1400 L1430,1150" stroke-dasharray="12 6" stroke-width="10.62"/>
<circle cx="675" cy="1290" r="11" stroke-width="11.8"/>
<g><ellipse cx="1275" cy="1075" rx="42" ry="55" transform="rotate(25 1275 1075)"/><ellipse cx="1140" cy="1145" rx="35" ry="46" transform="rotate(25 1140 1145)"/><ellipse cx="1027" cy="1207" rx="28" ry="36" transform="rotate(25 1027 1207)"/><ellipse cx="925" cy="1260" rx="20" ry="27" transform="rotate(25 925 1260)"/><circle cx="855" cy="1295" r="8"/><circle cx="1068" cy="1240" r="8"/><circle cx="765" cy="1230" r="8"/>
<ellipse cx="873" cy="1132" rx="38" ry="19" transform="rotate(-12 873 1132)"/><ellipse cx="975" cy="1078" rx="38" ry="19" transform="rotate(-12 975 1078)"/><path d="M1040,1040 C1035,1020 1060,1010 1085,1015"/>
<ellipse cx="1780" cy="810" rx="40" ry="52" transform="rotate(25 1780 810)"/><ellipse cx="1905" cy="740" rx="33" ry="44" transform="rotate(25 1905 740)"/><ellipse cx="2015" cy="685" rx="28" ry="37" transform="rotate(25 2015 685)"/><ellipse cx="2105" cy="640" rx="20" ry="27" transform="rotate(25 2105 640)"/><circle cx="2170" cy="600" r="8"/><circle cx="1955" cy="685" r="8"/><circle cx="1990" cy="748" r="8"/><ellipse cx="2045" cy="520" rx="38" ry="19" transform="rotate(-12 2045 520)"/><circle cx="1250" cy="960" r="8" stroke-width="11.8"/><circle cx="1710" cy="725" r="6"/></g>
<path d="M1300,870 C1290,895 1310,910 1340,905 L1630,765 C1655,745 1650,715 1620,715 L1590,720 L1320,855 Z" stroke-width="9.44"/><path d="M1315,875 C1310,890 1322,898 1340,893 L1622,757 C1638,745 1635,728 1618,728 L1330,866 Z" stroke-dasharray="10 5" stroke-width="9.44"/>
<!-- floor plate -->
<path d="M1385,1000 L1400,1010 L1620,890 L1665,850 L1680,872 L2464,1384 M1400,1010 L2130,1495 M1445,1140 L1985,1495 M1460,1160 L2010,1495 M1385,1000 L1390,1100 L1440,1140"/>
<path d="M1185,548 L1500,752" stroke-width="10.62"/>
<g><ellipse cx="1575" cy="957" rx="18" ry="10"/><ellipse cx="1805" cy="1108" rx="18" ry="10"/><circle cx="1822" cy="1175" r="7"/><circle cx="1508" cy="1160" r="8"/><circle cx="1660" cy="1222" r="8"/><circle cx="2030" cy="1470" r="8"/><ellipse cx="1208" cy="718" rx="15" ry="9"/><ellipse cx="1255" cy="752" rx="10" ry="6"/></g>
<!-- left post -->
<path d="M820,680 L850,640 L930,610 L970,680 L960,720 L1140,1090 L1225,1045 L1220,1020 L1050,670 L1030,660 M820,680 L870,760 L1000,1010 M880,710 L1030,1010 M850,640 L900,740"/>
<path d="M940,760 L1120,1085" stroke-dasharray="10 5" stroke-width="11.8"/>
<g><ellipse cx="897" cy="655" rx="14" ry="10"/><ellipse cx="1012" cy="740" rx="11" ry="16"/><circle cx="1075" cy="838" r="7" stroke-width="11.8"/><ellipse cx="1145" cy="995" rx="11" ry="16"/><circle cx="1150" cy="890" r="8"/></g>
<!-- curved tubes -->
<path d="M440,0 L560,130 L700,250 C760,310 810,370 850,420 C900,490 930,540 960,580 L1030,660 M350,0 C370,40 390,75 420,110 L560,240 L700,360 L800,480 L900,610 L960,690 M410,190 L560,290 L700,420 L850,610 M430,230 L640,400 L760,540 L830,650 M420,180 L410,190 L430,230"/>
<!-- left bracket assembly -->
<path d="M160,30 L180,15 L220,40 L250,30 L290,0 M160,30 L190,90 L215,120 L225,180 L330,430 L400,560 L470,660 L540,650 M215,120 L260,90 L300,30 M330,60 C320,120 340,160 370,180 M260,180 L350,350 L440,520 L520,640 M230,130 L290,110 L330,60"/>
<ellipse cx="343" cy="228" rx="14" ry="10"/><ellipse cx="190" cy="55" rx="8" ry="14" transform="rotate(30 190 55)"/>
<path d="M395,300 L420,280 L490,250 L520,300 L530,330 L450,380 L430,350 Z M395,300 L390,330 L420,400 L560,680 L580,720 M450,380 L640,560 M530,330 L700,640"/>
<path d="M402,330 L580,700" stroke-dasharray="10 5" stroke-width="11.8"/>
<ellipse cx="455" cy="310" rx="16" ry="12"/><circle cx="533" cy="435" r="8"/>
<path d="M640,540 L800,470 L830,500 L860,590 L700,640 M585,640 L640,610 L700,640 L710,655 M585,640 L600,680 L660,790 L690,810 L880,750 L960,700 M640,545 L650,570 L700,650 L715,640 M725,540 L790,535 M745,515 L775,560"/>
<ellipse cx="760" cy="540" rx="45" ry="27"/><ellipse cx="640" cy="655" rx="13" ry="18"/><circle cx="643" cy="553" r="10"/>
<path d="M440,770 L470,760 L500,740 L580,700 M435,770 L445,810 L470,835 L660,770 M500,680 L510,700 L490,760 M770,630 C775,610 800,600 825,610 M770,630 C765,660 775,690 800,695 M460,790 L650,720"/>
<circle cx="495" cy="765" r="8"/>
<!-- small bracket with holes -->
<path d="M670,910 L890,800 L900,830 M670,910 L740,975 L755,960 L830,1025 L1000,955 M670,910 L680,925 L740,985 M890,800 L1000,1010 M700,905 L880,815"/>
<ellipse cx="835" cy="885" rx="32" ry="19"/><ellipse cx="755" cy="925" rx="32" ry="19"/><ellipse cx="905" cy="915" rx="30" ry="18"/><circle cx="860" cy="972" r="27"/><path d="M850,955 C870,950 880,970 865,985 C850,995 840,985 845,975" stroke-width="10.62"/>
<!-- back panel -->
<path d="M790,280 L1480,5 M800,305 L1490,30 M1020,570 L1355,395 L1580,275 L1830,150 M1030,590 L1840,170 M700,410 L790,470 L820,480 M545,95 L720,20 M560,120 L760,35 M600,130 L790,70 M650,185 L780,130 M1250,0 L1240,90 M1480,5 L1900,-160"/>
<ellipse cx="1075" cy="312" rx="52" ry="58" transform="rotate(15 1075 312)"/><path d="M1035,330 L1115,300"/>
<g><circle cx="925" cy="390" r="10"/><circle cx="1118" cy="455" r="11"/><circle cx="1230" cy="240" r="9"/><circle cx="1265" cy="222" r="9"/><circle cx="1300" cy="205" r="9"/><circle cx="1495" cy="105" r="9"/><circle cx="1530" cy="90" r="9"/><circle cx="1565" cy="75" r="9"/><ellipse cx="1780" cy="125" rx="12" ry="16"/><ellipse cx="1710" cy="0" rx="47" ry="52"/>
<ellipse cx="915" cy="285" rx="8" ry="16" transform="rotate(-20 915 285)" stroke-width="10.62"/><ellipse cx="1240" cy="125" rx="8" ry="16" transform="rotate(-20 1240 125)" stroke-width="10.62"/><ellipse cx="1475" cy="15" rx="8" ry="16" transform="rotate(-20 1475 15)" stroke-width="10.62"/><ellipse cx="1095" cy="520" rx="8" ry="16" transform="rotate(-20 1095 520)" stroke-width="10.62"/><ellipse cx="1355" cy="390" rx="8" ry="16" transform="rotate(-20 1355 390)" stroke-width="10.62"/><ellipse cx="1585" cy="270" rx="8" ry="16" transform="rotate(-20 1585 270)" stroke-width="10.62"/><ellipse cx="1830" cy="160" rx="8" ry="16" transform="rotate(-20 1830 160)" stroke-width="10.62"/><ellipse cx="795" cy="75" rx="8" ry="14" transform="rotate(-20 795 75)" stroke-width="10.62"/></g>
<path d="M1190,545 L1270,535 L1330,570 L1440,520 L1445,510 L1400,495 L1395,450 L1370,440 M1130,530 L1190,545 M1090,590 L1110,615 L1095,570"/>
<circle cx="1320" cy="490" r="8"/><ellipse cx="1385" cy="518" rx="16" ry="10"/><circle cx="1365" cy="468" r="6"/><ellipse cx="1135" cy="535" rx="12" ry="20" transform="rotate(30 1135 535)"/>
<path d="M1740,265 L1800,255 L1815,275 L1790,280 M1360,450 L1780,290" />
<!-- right post -->
<path d="M1785,275 L1720,650 M1905,175 L1880,330 L1830,700 M1960,235 L1900,640 M2040,225 L2020,330 L1945,660 M1830,700 L1945,660 M1720,650 L1830,700 M1880,330 C1920,320 1980,300 2020,330 M1870,360 C1920,345 1980,330 2010,350 M1905,175 L1960,165 L2040,225 M1930,0 L1900,175 M1990,60 L1965,170"/>
<g><ellipse cx="1965" cy="250" rx="13" ry="18"/><ellipse cx="1805" cy="410" rx="11" ry="16"/><circle cx="1918" cy="405" r="10"/><ellipse cx="1780" cy="545" rx="17" ry="40"/><ellipse cx="1885" cy="605" rx="11" ry="16"/><path d="M1830,510 L1870,505 L1872,530 L1835,535 Z"/><path d="M1905,185 L1945,180 L1940,205 L1910,210 Z"/></g>
<!-- far right bracket -->
<path d="M1960,50 L2000,20 L2040,0 M1960,50 L1990,120 L2080,230 L2220,400 L2250,410 L2300,340 L2200,150 L2130,30 L2110,0 M2010,70 L2050,40 L2100,110 L2140,180 L2110,200 L2060,160 Z M2120,250 L2160,220 L2240,330 L2200,360 Z M2220,400 L2260,470 L2290,480 L2350,440 L2300,340 M2350,440 L2340,460 L2464,720 M2330,470 L2464,750 M2270,0 L2464,430 M2030,30 L2060,90 M2070,20 L2100,80"/>
<ellipse cx="2280" cy="425" rx="20" ry="27"/>
</g>
<!-- main frame T4 : tile (1076,500) x4 -->
<g transform="translate(1076,500) scale(0.25)" stroke-width="8.26">
<path d="M793,0 L1010,370 L1060,455 M1225,740 C1270,810 1320,880 1400,920 L1520,950 M640,0 L895,425 L910,430 L880,535 L885,545 L960,525 L1075,720 L1000,790 L1010,800 L1100,800 M655,5 L905,425 M965,545 L1070,735 M1075,720 L1130,825 L1225,765 M1130,830 C1180,920 1260,1000 1370,1040 L1400,1050 M1150,850 C1200,930 1280,990 1380,1030 M1385,930 C1360,960 1350,1000 1360,1040 M1360,1040 L1480,1060 L1690,1130"/>
<path d="M1010,375 L1075,450 L1130,420 L1180,425 L1195,470 L1180,480 L1215,490 L1240,540 L1230,555 L1265,580 L1310,690 L1250,720 L1225,740 M1125,520 L1215,490 M1125,520 L1140,560 L1180,605 L1230,590 M1180,605 L1215,690 L1250,720 M1060,455 L1100,440 L1130,420 M1125,520 L1165,640 L1215,700"/>
<ellipse cx="1158" cy="460" rx="9" ry="16"/><circle cx="1245" cy="605" r="7"/><circle cx="1275" cy="680" r="8" stroke-width="11.8"/>
<!-- left tube -->
<path d="M0,430 L330,1170 C380,1280 450,1380 540,1430 L640,1450 M0,720 L56,820 M215,1190 L255,1305 C290,1380 350,1450 420,1495 M485,1495 C490,1460 510,1440 540,1430 M600,1440 L780,1495 M0,1380 L160,1495"/>
<path d="M35,860 L70,830 L120,845 L145,875 L130,965 L100,975 Z M100,975 L115,1000 M0,1020 L95,975 L110,1000 L125,1060 L140,1110 L180,1150 L235,1210 L245,1225 L120,1260 L100,1240 L0,1090 M110,1000 C130,1050 140,1100 190,1160" />
<ellipse cx="90" cy="895" rx="11" ry="16" transform="rotate(-20 90 895)"/><ellipse cx="22" cy="1085" rx="9" ry="20"/><ellipse cx="95" cy="1072" rx="11" ry="18" transform="rotate(-20 95 1072)"/><ellipse cx="118" cy="1195" rx="13" ry="22" transform="rotate(-20 118 1195)"/>
<path d="M235,1210 L290,1185 L305,1190 L335,1275 L265,1310 L245,1225 M255,1300 L325,1265 M330,1250 L375,1240"/>
<!-- plate with holes -->
<path d="M630,1450 L1235,1065 L1450,1195 L1440,1215 L1040,1450 M1450,1195 L1030,1435 M750,1295 L775,1275 L790,1280 L870,1325 L860,1335 L820,1320 L780,1350 L755,1330 Z M780,1350 L780,1365"/>
<ellipse cx="1275" cy="1140" rx="25" ry="17"/><ellipse cx="1160" cy="1175" rx="38" ry="27"/><ellipse cx="1360" cy="1190" rx="22" ry="15"/><ellipse cx="1010" cy="1265" rx="35" ry="22"/><ellipse cx="777" cy="1310" rx="8" ry="12"/><path d="M990,1275 L1030,1262"/>
</g>
<!-- main frame T5 : tile (1076,800) x4 -->
<g transform="translate(1076,800) scale(0.25)" stroke-width="8.26">
<path d="M540,232 L870,325 M490,345 L1260,540 M540,380 L1210,565 M490,340 C480,310 490,260 520,240 L540,232 M440,320 L485,345"/>
<circle cx="548" cy="328" r="6"/>
<!-- left box -->
<path d="M100,565 L485,347 L700,430 M100,565 L280,680 L290,690 L700,445 M285,670 L690,430 M100,565 L120,850 L140,860 M125,835 L600,620 M700,445 L790,520 M0,540 L100,600 M0,590 L40,600 L100,640 M60,680 L110,700"/>
<path d="M140,860 L610,635" stroke-dasharray="12 5" stroke-width="10.62"/>
<ellipse cx="468" cy="415" rx="40" ry="24" transform="rotate(-10 468 415)"/><ellipse cx="308" cy="510" rx="40" ry="24" transform="rotate(-10 308 510)"/><ellipse cx="203" cy="565" rx="22" ry="13" transform="rotate(-10 203 565)"/><ellipse cx="293" cy="622" rx="22" ry="13" transform="rotate(-10 293 622)"/><ellipse cx="158" cy="640" rx="9" ry="14"/><ellipse cx="20" cy="615" rx="8" ry="14"/>
<path d="M250,820 L470,960 L495,950 L490,870 L500,830 L540,800 L740,730 L790,700 L785,760 L760,780 M470,960 L480,870 L495,820 L530,790 M340,770 L430,830 L435,845 L350,800 Z M600,640 L790,705"/>
<path d="M500,900 L730,760" stroke-width="11.8"/>
<g><ellipse cx="563" cy="718" rx="7" ry="10"/><circle cx="478" cy="790" r="6"/><circle cx="345" cy="842" r="6"/><circle cx="440" cy="885" r="6"/><circle cx="445" cy="925" r="6"/><circle cx="742" cy="745" r="8"/></g>
<path d="M540,560 C545,520 590,510 610,540 L600,580 C590,600 560,600 550,580 M660,490 L680,545 M700,480 C730,440 790,450 800,490 C800,530 760,550 730,530 C710,510 705,495 700,480"/>
<ellipse cx="762" cy="495" rx="28" ry="34"/>
<!-- middle lower bracket -->
<path d="M755,640 L790,700 L830,760 L975,860 L1000,855 L1310,690 L1320,650 L1290,620 M975,860 L985,740 L1050,590 M985,740 L850,620 L845,600 L830,610 L820,640 L790,650 L770,635 L755,640 M850,620 L880,660 C900,720 950,750 985,740 M1000,855 L1005,745 M880,575 L905,510 L930,500 L925,520 L900,590 L960,610 L975,600 L985,615 L1130,565 L1150,560 M1050,590 L1160,565"/>
<ellipse cx="1085" cy="740" rx="48" ry="62" transform="rotate(25 1085 740)" stroke-width="10.62"/><ellipse cx="1090" cy="742" rx="38" ry="52" transform="rotate(25 1090 742)"/><path d="M1060,770 L1120,715 M1070,790 L1085,800"/>
<g><ellipse cx="838" cy="720" rx="9" ry="14"/><circle cx="935" cy="782" r="8"/><ellipse cx="1155" cy="712" rx="9" ry="16" transform="rotate(25 1155 712)"/><ellipse cx="1155" cy="590" rx="9" ry="16" transform="rotate(25 1155 590)"/><circle cx="1020" cy="530" r="8"/><circle cx="800" cy="620" r="6"/></g>
<path d="M1200,640 C1205,600 1250,590 1280,620 L1300,660 C1290,690 1260,700 1240,690 M1250,545 L1330,500 L1360,510 L1345,590 L1320,640 M1225,600 L1245,612"/>
<ellipse cx="1295" cy="575" rx="36" ry="47" transform="rotate(20 1295 575)"/><circle cx="1298" cy="575" r="15" stroke-width="10.62"/><path d="M1288,565 L1308,585 M1308,565 L1288,585"/>
</g>
<!-- main frame T6 (rear beam) : tile (1076,700) x4 -->
<g transform="translate(1076,700) scale(0.25)" stroke-width="8.26">
<!-- bend + top rail -->
<path d="M1400,125 L1520,150 M1360,240 L1480,260 L1690,330 M1400,250 L1500,430 L1560,480 M1490,290 L1530,430 M1500,300 L1640,400 M1510,160 L1530,140 L1720,180 L1700,200 L1690,210 L1520,175 Z M1590,155 L1610,165 L1640,160 L1660,172 M1720,200 L1740,280 L1760,310 L1780,330 M1560,200 L1720,360 M1580,200 L1740,350 M1720,200 L2000,275 L2250,340 L2290,320 L2340,270 L2380,260 L2410,280 L2405,330 L2350,390 L2300,410"/>
<ellipse cx="2378" cy="310" rx="14" ry="20" stroke-width="10.62"/><ellipse cx="2378" cy="310" rx="7" ry="11"/>
<!-- front channel -->
<path d="M1380,890 L2280,350 M1398,920 L2300,398 M2240,330 L2285,345 L2305,480 L2300,545 M2285,345 L2300,398 M1430,1000 L1640,900 M2020,690 L2300,545 M1360,910 L1385,890 L1400,925 L1430,1000 M1340,1010 L1360,910"/>
<path d="M1613,800 L1633,790 L1658,800 L1663,830 L1643,848 L1618,840 Z" stroke-width="11.8"/><circle cx="1638" cy="820" r="12" stroke-width="10.62"/><ellipse cx="1530" cy="888" rx="11" ry="16" transform="rotate(20 1530 888)"/><ellipse cx="2183" cy="485" rx="11" ry="20" stroke-width="10.62"/>
<!-- inner beam -->
<path d="M1140,800 L1985,290 L2000,310 L1990,360 C2000,400 2050,430 2100,430 L2200,390 M2000,310 L2250,350 M1270,850 L1300,855 L1850,560 M1140,800 L1150,820 L1270,850 M1650,425 L1990,290 M1160,815 L1450,665"/>
<ellipse cx="1895" cy="485" rx="48" ry="65" transform="rotate(15 1895 485)"/><path d="M1880,430 C1910,435 1930,460 1925,490 M1900,465 L1925,455"/>
<path d="M1320,830 C1300,790 1330,745 1375,750 C1400,755 1410,780 1405,800"/>
<path d="M1450,660 L1500,655 L1760,490 L1790,485 L1840,570 L1545,745 L1500,750 L1460,700 Z M1500,655 L1545,745 M1760,490 L1800,575 M1670,655 L1750,625 M1740,680 L1800,660"/>
<path d="M1500,702 L1780,540" stroke-dasharray="10 5" stroke-width="10.62"/>
<!-- plate connection -->
<path d="M885,715 L1030,632 L1440,395 L1450,400 L1440,415 M910,745 L1040,760 L1130,730 L1190,690 M920,760 L1050,765 M1020,630 L1060,690 L1110,690 L1180,640 M1040,650 L1345,495 M1310,530 C1320,500 1360,490 1390,520 M1285,540 C1290,580 1270,620 1240,640 L1290,610 L1400,625 L1420,640 L1290,670 Z M1190,660 L1250,650 L1180,700 M1385,495 L1400,465 L1440,460 L1450,480 L1410,510 Z M1490,475 L1540,450 L1550,475 L1520,495 Z"/>
<ellipse cx="1350" cy="555" rx="33" ry="42"/><ellipse cx="1265" cy="687" rx="14" ry="8"/><ellipse cx="1040" cy="747" rx="14" ry="8"/><circle cx="1420" cy="475" r="8"/>
<path d="M1640,425 L1680,440 L1750,410 L1780,385 L1700,390"/><ellipse cx="1790" cy="370" rx="16" ry="9"/><ellipse cx="1830" cy="275" rx="16" ry="8"/>
<!-- under brackets -->
<path d="M1640,900 L1770,945 L1800,930 L1960,850 L2020,780 L2030,700 M1740,850 L1730,890 L1770,945 M1800,800 L1830,780 L1900,750 L1940,730 L1950,780 L1940,860 L1850,900 L1830,840 Z M1920,730 L2010,690"/>
<path d="M1810,800 L1850,890" stroke-width="12.98" stroke-dasharray="8 4"/><ellipse cx="1890" cy="785" rx="10" ry="16"/><circle cx="1935" cy="748" r="9" stroke-width="10.62"/>
<path d="M1430,1000 L1480,1040 L1620,1090 L1660,1005 L1570,960 L1520,980 L1480,1040 M1540,990 L1600,1082 M1480,990 L1500,1040"/>
<ellipse cx="1565" cy="1005" rx="18" ry="22"/><path d="M1555,998 L1577,1012"/>
</g>
<!-- main frame T7 (floor plate lower) : tile (700,780) x4 -->
<g transform="translate(700,780) scale(0.25)" stroke-width="8.26">
<path d="M1170,375 L1610,640 M1185,398 L1600,655 M1025,375 L1560,735 M1504,264 L1855,490 M1545,655 L1600,690 M1550,700 L1600,735 M1555,745 L1600,775"/>
<path d="M1050,375 L1580,755" stroke-width="10.62"/>
<circle cx="1522" cy="695" r="13"/>
<g><circle cx="550" cy="40" r="8"/><circle cx="700" cy="100" r="8"/><circle cx="1070" cy="350" r="8"/><circle cx="1355" cy="580" r="8"/><circle cx="1455" cy="605" r="8"/><ellipse cx="862" cy="55" rx="12" ry="7"/></g>
</g>
<g>
<ellipse cx="417.1" cy="25.4" rx="4.1" ry="7.5" transform="rotate(40.8 417.1 25.4)"/>
<path d="M412.2,31.0 L416.0,34.3 M422.0,19.7 L425.8,23.0"/>
<path d="M425.8,23.0 A4.1,7.5 40.8 0 1 416.0,34.3"/>
<path d="M419.4,32.6 L438.4,49.0 M424.6,26.6 L443.6,43.0"/>
<ellipse cx="441.0" cy="46.0" rx="2.2" ry="4.0" transform="rotate(40.8 441.0 46.0)"/>
<ellipse cx="482.0" cy="6.4" rx="4.1" ry="7.5" transform="rotate(38.3 482.0 6.4)"/>
<path d="M477.4,12.3 L481.3,15.4 M486.7,0.6 L490.6,3.7"/>
<path d="M490.6,3.7 A4.1,7.5 38.3 0 1 481.3,15.4"/>
<path d="M484.7,13.6 L503.0,28.1 M489.6,7.3 L508.0,21.9"/>
<ellipse cx="505.5" cy="25.0" rx="2.2" ry="4.0" transform="rotate(38.3 505.5 25.0)"/>
<path d="M444.0,46.0 L473.0,61.0"/>
<path d="M490.0,20.0 L492.0,60.0"/>
<path d="M527.8,126.1 L521.9,131.9 L514.7,128.8 L513.4,119.9 L519.3,114.1 L526.5,117.2 Z"/>
<path d="M521.8,112.6 L529.0,115.7 L530.3,124.6 L524.4,130.4"/>
<ellipse cx="522.1" cy="122.5" rx="3.4" ry="4.5" transform="rotate(-20 522.1 122.5)"/>
<path d="M595.1,106.7 L588.9,112.9 L581.3,109.6 L579.9,100.3 L586.1,94.1 L593.7,97.4 Z"/>
<path d="M588.6,92.6 L596.2,95.9 L597.6,105.2 L591.4,111.4"/>
<ellipse cx="589.0" cy="103.0" rx="3.6" ry="4.8" transform="rotate(-20 589.0 103.0)"/>
<path d="M526.0,130.6 L559.4,155.6"/>
<path d="M585.0,113.8 L577.5,155.0"/>
<ellipse cx="1081.7" cy="46.0" rx="7.5" ry="5.0" fill="#111" stroke-width="1.77"/>
<circle cx="1080.7" cy="45.5" r="1.6" fill="#fff" stroke="none"/>
<circle cx="1084.2" cy="47.0" r="1.1" fill="#fff" stroke="none"/>
<path d="M1076.5,50.5 L1077.6,54.7 L1085.8,54.7 L1087.0,50.5"/>
<ellipse cx="946.9" cy="95.9" rx="7.5" ry="5.0" fill="#111" stroke-width="1.77"/>
<circle cx="945.9" cy="95.4" r="1.6" fill="#fff" stroke="none"/>
<circle cx="949.4" cy="96.9" r="1.1" fill="#fff" stroke="none"/>
<path d="M941.6,100.4 L942.8,104.6 L951.0,104.6 L952.1,100.4"/>
<ellipse cx="1103.8" cy="106.7" rx="7.5" ry="5.0" fill="#111" stroke-width="1.77"/>
<circle cx="1102.8" cy="106.2" r="1.6" fill="#fff" stroke="none"/>
<circle cx="1106.3" cy="107.7" r="1.1" fill="#fff" stroke="none"/>
<path d="M1098.5,111.2 L1099.7,115.4 L1107.9,115.4 L1109.0,111.2"/>
<ellipse cx="973.7" cy="135.8" rx="7.5" ry="5.0" fill="#111" stroke-width="1.77"/>
<circle cx="972.7" cy="135.3" r="1.6" fill="#fff" stroke="none"/>
<circle cx="976.2" cy="136.8" r="1.1" fill="#fff" stroke="none"/>
<path d="M968.5,140.3 L969.6,144.5 L977.8,144.5 L979.0,140.3"/>
<path d="M1043.9,84.1 L1075.5,52.4"/>
<path d="M1003.2,97.9 L954.1,101.0"/>
<path d="M1050.6,99.5 L1096.3,106.5"/>
<path d="M1010.6,109.9 L981.5,133.1"/>
<ellipse cx="1206.8" cy="138.7" rx="3.9" ry="7.0" transform="rotate(155.7 1206.8 138.7)" stroke-width="2.83"/>
<path d="M1203.9,132.3 L1200.3,133.9 M1209.7,145.1 L1206.1,146.7"/>
<path d="M1206.1,146.7 A3.9,7.0 155.7 0 1 1200.3,133.9"/>
<path d="M1200.5,138.0 L1188.2,143.6 M1203.1,143.9 L1190.8,149.4"/>
<ellipse cx="1189.5" cy="146.5" rx="1.8" ry="3.2" transform="rotate(155.7 1189.5 146.5)"/>
<circle cx="1206.8" cy="138.7" r="3.5" stroke-width="2.6"/>
<path d="M1201.2,149.0 L1233.6,170.6"/>
<path d="M1109.8,173.1 L1120.1,170.1 L1132.8,181.7 L1132.8,191.1 L1123.6,191.1 Z" stroke-width="2.6"/>
<path d="M1109.8,173.1 L1110.8,181.7 L1123.6,191.1 M1128.2,191.1 L1128.2,181.7 L1116.7,173.2" stroke-width="2.6"/>
<circle cx="1117.2" cy="179.5" r="3" stroke-width="2.6"/>
<path d="M1133.0,190.5 L1169.5,211.3"/>
<path d="M408.5,496.2 L418.9,493.2 L431.5,504.8 L431.5,514.2 L422.3,514.2 Z" stroke-width="2.6"/>
<path d="M408.5,496.2 L409.5,504.8 L422.3,514.2 M426.9,514.2 L426.9,504.8 L415.4,496.4" stroke-width="2.6"/>
<circle cx="415.9" cy="502.7" r="3" stroke-width="2.6"/>
<path d="M381.9,468.8 L411.2,493.8"/>
<ellipse cx="306.1" cy="551.3" rx="3.9" ry="7.0" transform="rotate(-19.7 306.1 551.3)" stroke-width="2.83"/>
<path d="M308.5,557.9 L312.2,556.5 M303.8,544.7 L307.5,543.3"/>
<path d="M307.5,543.3 A3.9,7.0 -19.7 0 1 312.2,556.5"/>
<path d="M312.4,552.4 L331.7,545.5 M310.2,546.4 L329.5,539.5"/>
<ellipse cx="330.6" cy="542.5" rx="1.8" ry="3.2" transform="rotate(-19.7 330.6 542.5)"/>
<circle cx="306.1" cy="551.3" r="3.5" stroke-width="2.6"/>
<path d="M283.1,514.0 L315.6,541.9"/>
<circle cx="1698.2" cy="661.9" r="7.0" fill="#111" stroke-width="1.77"/>
<path d="M1696.7,659.9 L1699.7,660.9 L1697.7,664.4" stroke="#fff" stroke-width="1.53"/>
<circle cx="1732.3" cy="669.9" r="7.0" fill="#111" stroke-width="1.77"/>
<path d="M1730.8,667.9 L1733.8,668.9 L1731.8,672.4" stroke="#fff" stroke-width="1.53"/>
<circle cx="1701.9" cy="727.0" r="7.0" fill="#111" stroke-width="1.77"/>
<path d="M1700.4,725.0 L1703.4,726.0 L1701.4,729.5" stroke="#fff" stroke-width="1.53"/>
<circle cx="1727.0" cy="723.6" r="7.0" fill="#111" stroke-width="1.77"/>
<path d="M1725.5,721.6 L1728.5,722.6 L1726.5,726.1" stroke="#fff" stroke-width="1.53"/>
<path d="M1684.1,681.2 L1694.1,667.4"/>
<path d="M1694.1,687.4 L1725.7,674.1"/>
<path d="M1684.9,709.3 L1696.6,723.1"/>
<path d="M1694.6,706.0 L1720.7,719.0"/>
<path d="M1902.9,650.4 L1898.2,678.2"/>
<ellipse cx="1899.7" cy="685.5" rx="4.1" ry="7.5" transform="rotate(148.6 1899.7 685.5)" stroke-width="2.83"/>
<path d="M1895.8,679.1 L1892.4,681.1 M1903.6,691.9 L1900.2,693.9"/>
<path d="M1900.2,693.9 A4.1,7.5 148.6 0 1 1892.4,681.1"/>
<path d="M1893.2,685.4 L1881.1,692.8 M1896.8,691.2 L1884.7,698.6"/>
<ellipse cx="1882.9" cy="695.7" rx="1.9" ry="3.4" transform="rotate(148.6 1882.9 695.7)"/>
<circle cx="1899.7" cy="685.5" r="3.8" stroke-width="2.6"/>
<path d="M1785.4,739.8 L1805.7,736.8 L1812.4,753.3 L1791.3,758.8 Z" stroke-width="2.83"/>
<path d="M1789.4,742.8 L1803.8,740.8 L1808.4,751.8 L1793.5,754.8 Z" stroke-width="2.83"/>
<circle cx="1798.9" cy="747.8" r="3.5" stroke-width="2.83"/>
<path d="M1813.0,754.4 L1847.1,767.2"/>
<ellipse cx="1770.6" cy="804.5" rx="3.9" ry="7.0" transform="rotate(12.4 1770.6 804.5)"/>
<path d="M1769.1,811.3 L1773.9,812.4 M1772.1,797.6 L1776.9,798.7"/>
<path d="M1776.9,798.7 A3.9,7.0 12.4 0 1 1773.9,812.4"/>
<path d="M1776.0,810.0 L1802.1,815.7 M1777.8,801.8 L1803.9,807.5"/>
<ellipse cx="1803.0" cy="811.6" rx="2.3" ry="4.2" transform="rotate(12.4 1803.0 811.6)"/>
<path d="M1789.8,814.9 L1806.8,845.7"/>
<ellipse cx="1720.0" cy="848.4" rx="3.9" ry="7.0" transform="rotate(14.0 1720.0 848.4)"/>
<path d="M1718.3,855.2 L1723.1,856.4 M1721.7,841.6 L1726.5,842.8"/>
<path d="M1726.5,842.8 A3.9,7.0 14.0 0 1 1723.1,856.4"/>
<path d="M1725.3,854.0 L1751.4,860.6 M1727.3,845.9 L1753.4,852.4"/>
<ellipse cx="1752.4" cy="856.5" rx="2.3" ry="4.2" transform="rotate(14.0 1752.4 856.5)"/>
<path d="M1754.9,854.4 L1795.6,856.5"/>
<ellipse cx="1909.6" cy="850.2" rx="8.3" ry="11.0" transform="rotate(12 1909.6 850.2)" stroke-width="2.6"/>
<ellipse cx="1910.1" cy="850.2" rx="2.7" ry="4.0" transform="rotate(12 1909.6 850.2)" stroke-width="2.6"/>
<path d="M1907.1,838.7 A8.3,11.0 12 0 0 1907.1,861.7"/>
<ellipse cx="1856.0" cy="896.0" rx="8.3" ry="11.0" transform="rotate(12 1856.0 896.0)" stroke-width="2.6"/>
<ellipse cx="1856.5" cy="896.0" rx="2.7" ry="4.0" transform="rotate(12 1856.0 896.0)" stroke-width="2.6"/>
<path d="M1853.5,884.5 A8.3,11.0 12 0 0 1853.5,907.5"/>
<path d="M1912.1,861.5 L1922.1,903.1"/>
<path d="M1863.9,901.1 L1907.1,912.3"/>
<ellipse cx="1556.3" cy="951.9" rx="3.9" ry="7.0" transform="rotate(14.0 1556.3 951.9)"/>
<path d="M1554.6,958.7 L1559.5,959.9 M1558.0,945.1 L1562.9,946.3"/>
<path d="M1562.9,946.3 A3.9,7.0 14.0 0 1 1559.5,959.9"/>
<path d="M1561.6,957.5 L1587.7,964.1 M1563.6,949.4 L1589.8,955.9"/>
<ellipse cx="1588.8" cy="960.0" rx="2.3" ry="4.2" transform="rotate(14.0 1588.8 960.0)"/>
<path d="M1581.2,964.5 L1597.0,981.2"/>
<ellipse cx="1520.1" cy="980.6" rx="3.9" ry="7.0" transform="rotate(15.4 1520.1 980.6)"/>
<path d="M1518.2,987.3 L1523.1,988.7 M1521.9,973.8 L1526.8,975.2"/>
<path d="M1526.8,975.2 A3.9,7.0 15.4 0 1 1523.1,988.7"/>
<path d="M1525.2,986.4 L1551.4,993.5 M1527.5,978.3 L1553.6,985.5"/>
<ellipse cx="1552.5" cy="989.5" rx="2.3" ry="4.2" transform="rotate(15.4 1552.5 989.5)"/>
<path d="M1553.8,988.0 L1591.2,992.5"/>
<ellipse cx="1698.2" cy="1003.0" rx="8.5" ry="10.5" transform="rotate(12 1698.2 1003.0)" stroke-width="2.6"/>
<ellipse cx="1698.8" cy="1003.0" rx="2.8" ry="3.8" transform="rotate(12 1698.2 1003.0)" stroke-width="2.6"/>
<path d="M1695.8,992.0 A8.5,10.5 12 0 0 1695.8,1014.0"/>
<ellipse cx="1652.0" cy="1031.2" rx="8.5" ry="10.7" transform="rotate(12 1652.0 1031.2)" stroke-width="2.6"/>
<ellipse cx="1652.5" cy="1031.2" rx="2.8" ry="3.9" transform="rotate(12 1652.0 1031.2)" stroke-width="2.6"/>
<path d="M1649.5,1020.0 A8.5,10.7 12 0 0 1649.5,1042.5"/>
<path d="M1700.8,1014.5 L1708.8,1050.0"/>
<path d="M1660.0,1036.8 L1696.2,1056.2"/>
<path d="M1306.2,1035.5 L1329.5,1032.5 L1337.2,1051.2 L1313.1,1057.5 Z" stroke-width="2.83"/>
<path d="M1310.2,1038.5 L1327.3,1036.5 L1332.6,1049.5 L1315.5,1053.0 Z" stroke-width="2.83"/>
<circle cx="1321.8" cy="1045.0" r="3.5" stroke-width="2.83"/>
<path d="M1334.2,1055.0 L1361.2,1112.5"/>
<ellipse cx="1209.3" cy="1113.5" rx="4.4" ry="8.0" transform="rotate(-29.1 1209.3 1113.5)" stroke-width="2.83"/>
<path d="M1213.1,1120.5 L1216.6,1118.5 M1205.4,1106.5 L1208.9,1104.5"/>
<path d="M1208.9,1104.5 A4.4,8.0 -29.1 0 1 1216.6,1118.5"/>
<path d="M1215.8,1113.9 L1233.0,1104.4 M1212.3,1107.7 L1229.5,1098.1"/>
<ellipse cx="1231.2" cy="1101.2" rx="2.0" ry="3.6" transform="rotate(-29.1 1231.2 1101.2)"/>
<circle cx="1209.3" cy="1113.5" r="4.0" stroke-width="2.6"/>
<path d="M1223.8,1112.5 L1232.0,1157.5"/>
<path d="M1280.0,430.0 L1247.5,457.5"/>
<path d="M2500.5,500.0 L2504.0,545.0"/>
</g>
<g>
<text x="471.8" y="82.5" class="t" style="font-size:26px">110</text>
<text x="553.0" y="177.5" class="t" style="font-size:26px">100</text>
<text x="1002.8" y="105.7" class="t" style="font-size:26px">120</text>
<text x="1236.8" y="190.5" class="t" style="font-size:26px">50</text>
<text x="1172.7" y="230.5" class="t" style="font-size:26px">80</text>
<text x="1682.8" y="237.0" class="t" style="font-size:26px">30</text>
<text x="1280.5" y="427.5" class="t" style="font-size:26px">10</text>
<text x="351.5" y="466.2" class="t" style="font-size:26px">80</text>
<text x="253.0" y="510.0" class="t" style="font-size:26px">50</text>
<text x="2481.5" y="493.0" class="t" style="font-size:26px">20</text>
<text x="1890.2" y="645.0" class="t" style="font-size:26px">50</text>
<text x="1648.8" y="705.2" class="t" style="font-size:26px">140</text>
<text x="1852.0" y="783.9" class="t" style="font-size:26px">60</text>
<text x="1801.3" y="867.9" class="t" style="font-size:26px">95</text>
<text x="1911.1" y="925.6" class="t" style="font-size:26px">90</text>
<text x="1596.5" y="1003.3" class="t" style="font-size:26px">95</text>
<text x="1699.0" y="1072.5" class="t" style="font-size:26px">90</text>
<text x="1356.0" y="1137.5" class="t" style="font-size:26px">60</text>
<text x="1221.0" y="1181.2" class="t" style="font-size:26px">50</text>
<text x="187.8" y="1012.5" class="t" style="font-size:26px">30</text>
<text x="2664.2" y="1117.5" class="t" style="font-size:26px">20</text>
<text x="123.4" y="1781.2" class="t" style="font-size:26px">30Y1704</text>
</g>

</svg>
</body></html>
